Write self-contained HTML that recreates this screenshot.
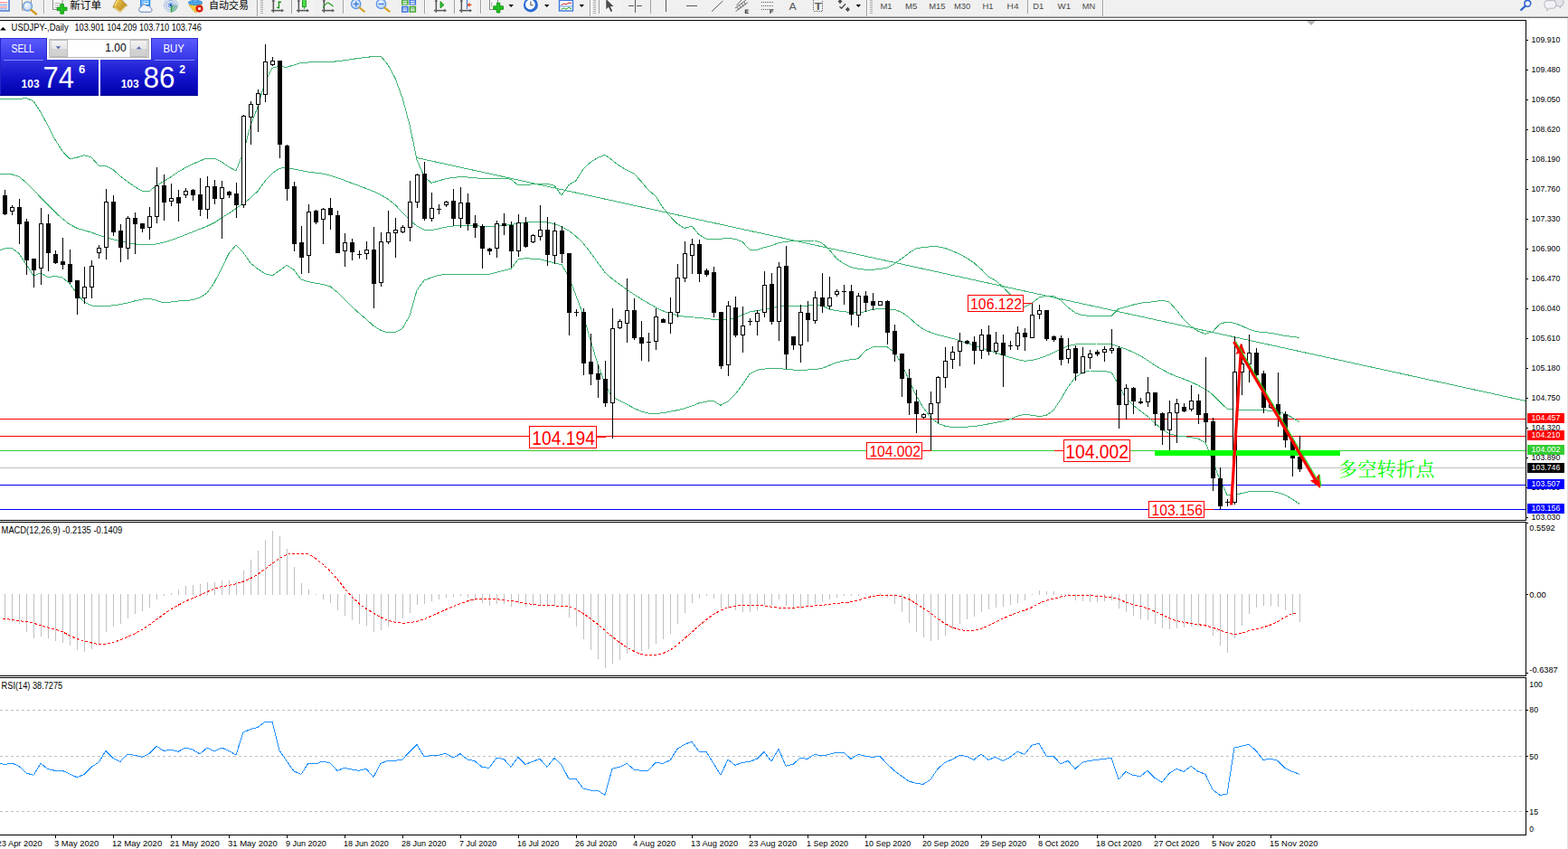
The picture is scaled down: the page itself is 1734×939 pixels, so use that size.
<!DOCTYPE html>
<html><head><meta charset="utf-8"><title>USDJPY-,Daily</title>
<style>html,body{margin:0;padding:0;background:#fff;overflow:hidden}body{width:1734px;height:939px;font-family:"Liberation Sans","Noto Sans CJK SC",sans-serif}svg text{font-family:"Liberation Sans","Noto Sans CJK SC",sans-serif;white-space:pre}</style></head>
<body>
<svg width="1734" height="939" viewBox="0 0 1734 939" font-family="Liberation Sans, sans-serif" style="display:block">
<defs><linearGradient id="gSell" x1="0" y1="0" x2="0" y2="1"><stop offset="0" stop-color="#5c5cff"/><stop offset="1" stop-color="#3434e6"/></linearGradient><linearGradient id="gBig" x1="0" y1="0" x2="0" y2="1"><stop offset="0" stop-color="#3232e0"/><stop offset="0.55" stop-color="#1010c8"/><stop offset="1" stop-color="#0000a8"/></linearGradient><linearGradient id="gBtn" x1="0" y1="0" x2="0" y2="1"><stop offset="0" stop-color="#f4f4f4"/><stop offset="0.5" stop-color="#e6e6e6"/><stop offset="0.5" stop-color="#d4d4d4"/><stop offset="1" stop-color="#cfcfcf"/></linearGradient><linearGradient id="gGold" x1="0" y1="0" x2="1" y2="1"><stop offset="0" stop-color="#f6d35a"/><stop offset="1" stop-color="#b07a10"/></linearGradient><radialGradient id="gLens" cx="0.4" cy="0.4" r="0.7"><stop offset="0" stop-color="#f4faff"/><stop offset="1" stop-color="#a8cdf2"/></radialGradient></defs>
<rect x="0" y="0" width="1734" height="939" fill="#fff" />
<rect x="1733" y="20" width="1" height="919" fill="#e3e3e3" shape-rendering="crispEdges"/>
<rect x="0" y="0" width="1734" height="18" fill="#f0f0f0" />
<rect x="0" y="18" width="1734" height="1" fill="#b9b9b9" shape-rendering="crispEdges"/>
<rect x="0" y="19" width="1734" height="1" fill="#6f6f6f" shape-rendering="crispEdges"/>
<pattern id="chk" width="2" height="2" patternUnits="userSpaceOnUse"><rect width="1" height="1" fill="#e9e9e9"/><rect x="1" y="1" width="1" height="1" fill="#e9e9e9"/></pattern>
<rect x="-1" y="-1" width="11" height="13" fill="#fff" stroke="#3b6fd0" stroke-width="1.4"/>
<rect x="0" y="2.5" width="8" height="0.8" fill="#ff4040" />
<rect x="0" y="5" width="8" height="0.8" fill="#4a7ae0" />
<rect x="0" y="7.5" width="8" height="0.8" fill="#ff4040" />
<rect x="0" y="9.5" width="8" height="0.8" fill="#4a7ae0" />
<rect x="24.5" y="-1" width="10" height="12" fill="#f4f0e6" stroke="#a09a88" stroke-width="1"/>
<circle cx="30.5" cy="7" r="5" fill="url(#gLens)" stroke="#6f9fe0" stroke-width="1.4" fill-opacity="0.9"/>
<line x1="34.5" y1="11" x2="40" y2="15.5" stroke="#d29a22" stroke-width="2.4" stroke-linecap="round"/>
<rect x="48" y="0" width="1" height="15" fill="#a0a0a0" shape-rendering="crispEdges"/>
<rect x="49" y="0" width="1" height="15" fill="#fff" shape-rendering="crispEdges"/>
<rect x="58.5" y="-1" width="10.5" height="11.5" fill="#fbfbfb" stroke="#8c8c8c" stroke-width="1"/>
<rect x="60.5" y="3" width="6" height="0.8" fill="#a0a0a0" />
<rect x="60.5" y="5.5" width="6" height="0.8" fill="#a0a0a0" />
<rect x="60.5" y="8" width="6" height="0.8" fill="#a0a0a0" />
<path d="M66.8 4.5 h3.6 v3.6 h3.6 v3.6 h-3.6 v3.6 h-3.6 v-3.6 h-3.6 v-3.6 h3.6 Z" fill="#20c020" stroke="#0a8a0a" stroke-width="0.8"/>
<text x="77.3" y="9.8" font-size="11.6" fill="#000" textLength="34.7" lengthAdjust="spacingAndGlyphs" >新订单</text>
<path d="M129.4 -1 L133.6 -1 L140.4 6 L133 13.7 L125 7.9 Z" fill="url(#gGold)" stroke="#a06c0a" stroke-width="0.8" stroke-linejoin="round"/>
<path d="M126.4 8.6 L133 13.2 L139.6 6.6" fill="none" stroke="#f4e6b0" stroke-width="1.1"/>
<path d="M129.8 0.2 L127 6.6" fill="none" stroke="#fbe88c" stroke-width="1.2"/>
<rect x="155.3" y="-1" width="10.6" height="8.4" fill="#1e8ff4" stroke="#1878d8" stroke-width="0.6"/>
<rect x="158.4" y="0.6" width="6" height="4.4" fill="#d8ecff" />
<rect x="156.6" y="-1" width="1.2" height="7" fill="#9fd0ff" />
<rect x="159.6" y="1.8" width="3.8" height="1" fill="#1e8ff4" />
<path d="M155.8 13.3 a2.9 2.9 0 0 1 0.3 -5.7 a3.5 3.5 0 0 1 6.3 -1 a3 3 0 0 1 4.2 2.3 a2.3 2.3 0 0 1 -0.4 4.4 Z" fill="#f2f5fb" stroke="#5a76b4" stroke-width="0.9"/>
<path d="M189 5.7 L196.6 5.7 A7.6 7.6 0 0 1 189 13.4 Z" fill="#7cc47c" fill-opacity="0.75"/>
<g fill="none" stroke="#5a8ee0" stroke-width="0.9"><circle cx="188.9" cy="5.7" r="2.9"/><circle cx="188.9" cy="5.7" r="5.2" stroke-opacity="0.8"/><circle cx="188.9" cy="5.7" r="7.4" stroke-opacity="0.55"/></g>
<circle cx="188.8" cy="5.6" r="1.6" fill="#2458d0"/>
<rect x="188.9" y="6.4" width="1.3" height="7.2" fill="#22a822" />
<path d="M208.7 5.4 L223.4 4.6 L217.4 13.7 Q216 14 215 13 Z" fill="#f6cc3a" stroke="#c89a1a" stroke-width="0.6"/>
<ellipse cx="216" cy="3" rx="7.8" ry="2.7" fill="#4aa4e6" stroke="#2c7cc8" stroke-width="0.6"/>
<path d="M212.4 2.2 Q216 -4 219.8 2.2 Z" fill="#62b4ee" stroke="#2c7cc8" stroke-width="0.5"/>
<circle cx="220.5" cy="9.6" r="4.1" fill="#dc2010"/>
<rect x="219.2" y="8.3" width="2.7" height="2.7" fill="#fff" />
<text x="231" y="9.8" font-size="11.6" fill="#000" textLength="44" lengthAdjust="spacingAndGlyphs" >自动交易</text>
<rect x="284" y="0" width="1" height="18" fill="#a0a0a0" shape-rendering="crispEdges"/>
<rect x="285" y="0" width="1" height="18" fill="#fff" shape-rendering="crispEdges"/>
<rect x="288" y="0" width="3" height="1" fill="#b0b0b0" />
<rect x="288" y="2" width="3" height="1" fill="#b0b0b0" />
<rect x="288" y="4" width="3" height="1" fill="#b0b0b0" />
<rect x="288" y="6" width="3" height="1" fill="#b0b0b0" />
<rect x="288" y="8" width="3" height="1" fill="#b0b0b0" />
<rect x="288" y="10" width="3" height="1" fill="#b0b0b0" />
<rect x="288" y="12" width="3" height="1" fill="#b0b0b0" />
<rect x="288" y="14" width="3" height="1" fill="#b0b0b0" />
<rect x="301.6" y="0" width="1.5" height="13.8" fill="#575757" />
<rect x="300" y="10.9" width="12" height="1.5" fill="#575757" />
<path d="M311.4 9.7 L314 11.65 L311.4 13.6 Z M300.7 1.8 L302.35 -1.2 L304 1.8 Z" fill="#575757"/>
<path d="M308.4 1.2 V9.6 M308.4 2.4 H311 M306.2 8.4 H308.4" stroke="#0f8f0f" stroke-width="1.3" fill="none"/>
<rect x="322" y="0" width="1" height="15" fill="#a0a0a0" shape-rendering="crispEdges"/>
<rect x="323" y="0" width="24" height="15.5" fill="#fdfdfd" />
<rect x="323" y="0" width="24" height="15.5" fill="url(#chk)"/>
<rect x="329.6" y="0" width="1.5" height="13.8" fill="#575757" />
<rect x="328" y="10.9" width="12" height="1.5" fill="#575757" />
<path d="M339.4 9.7 L342 11.65 L339.4 13.6 Z M328.7 1.8 L330.35 -1.2 L332 1.8 Z" fill="#575757"/>
<rect x="334.5" y="-1" width="3.8" height="8.6" fill="#4fe04f" stroke="#109210" stroke-width="0.9"/>
<rect x="335.9" y="7.6" width="1" height="2.2" fill="#109210" />
<rect x="357.6" y="0" width="1.5" height="13.8" fill="#575757" />
<rect x="356" y="10.9" width="12" height="1.5" fill="#575757" />
<path d="M367.4 9.7 L370 11.65 L367.4 13.6 Z M356.7 1.8 L358.35 -1.2 L360 1.8 Z" fill="#575757"/>
<path d="M357.2 8.6 Q361.6 2 363.4 3.2 Q365.6 4.8 368.6 7" stroke="#1a961a" stroke-width="1.1" fill="none"/>
<rect x="379" y="0" width="1" height="15" fill="#a0a0a0" shape-rendering="crispEdges"/>
<rect x="380" y="0" width="1" height="15" fill="#fff" shape-rendering="crispEdges"/>
<circle cx="393.7" cy="4.4" r="5.2" fill="url(#gLens)" stroke="#5c94e4" stroke-width="1.3"/>
<line x1="397.7" y1="8.6" x2="402.7" y2="12.6" stroke="#d6a626" stroke-width="2.4" stroke-linecap="round"/>
<rect x="390.7" y="3.7" width="6" height="1.5" fill="#3f7ad8" />
<rect x="392.95" y="1.4" width="1.5" height="6" fill="#3f7ad8" />
<circle cx="421.5" cy="4.4" r="5.2" fill="url(#gLens)" stroke="#5c94e4" stroke-width="1.3"/>
<line x1="425.5" y1="8.6" x2="430.5" y2="12.6" stroke="#d6a626" stroke-width="2.4" stroke-linecap="round"/>
<rect x="418.5" y="3.7" width="6" height="1.5" fill="#3f7ad8" />
<rect x="444" y="-1" width="7.6" height="6.6" fill="#3fa62e" />
<rect x="445.4" y="0.8" width="4.8" height="1.1" fill="#eaf4ff" />
<rect x="445.4" y="2.6" width="4.8" height="2.2" fill="#fff" fill-opacity="0.75"/>
<rect x="452.5" y="-1" width="7.6" height="6.6" fill="#3a6fe0" />
<rect x="453.9" y="0.8" width="4.8" height="1.1" fill="#eaf4ff" />
<rect x="453.9" y="2.6" width="4.8" height="2.2" fill="#fff" fill-opacity="0.75"/>
<rect x="444" y="6.8" width="7.6" height="7" fill="#3a6fe0" />
<rect x="445.4" y="8.4" width="4.8" height="1.1" fill="#eaf4ff" />
<rect x="445.4" y="10.2" width="4.8" height="2.2" fill="#fff" fill-opacity="0.75"/>
<rect x="452.5" y="6.8" width="7.6" height="7" fill="#3fa62e" />
<rect x="453.9" y="8.4" width="4.8" height="1.1" fill="#eaf4ff" />
<rect x="453.9" y="10.2" width="4.8" height="2.2" fill="#fff" fill-opacity="0.75"/>
<rect x="469" y="0" width="1" height="15" fill="#a0a0a0" shape-rendering="crispEdges"/>
<rect x="470" y="0" width="1" height="15" fill="#fff" shape-rendering="crispEdges"/>
<rect x="474" y="0" width="25" height="15.5" fill="#fdfdfd" />
<rect x="474" y="0" width="25" height="15.5" fill="url(#chk)"/>
<rect x="481.6" y="0" width="1.5" height="13.8" fill="#575757" />
<rect x="480" y="10.9" width="12" height="1.5" fill="#575757" />
<path d="M491.4 9.7 L494 11.65 L491.4 13.6 Z M480.7 1.8 L482.35 -1.2 L484 1.8 Z" fill="#575757"/>
<path d="M487 1.6 L491 5.4 L487 9 Z" fill="#2fbf2f" stroke="#168a16" stroke-width="0.8"/>
<rect x="502" y="0" width="1" height="15" fill="#a0a0a0" shape-rendering="crispEdges"/>
<rect x="503" y="0" width="24" height="15.5" fill="#fdfdfd" />
<rect x="503" y="0" width="24" height="15.5" fill="url(#chk)"/>
<rect x="509.6" y="0" width="1.5" height="13.8" fill="#575757" />
<rect x="508" y="10.9" width="12" height="1.5" fill="#575757" />
<path d="M519.4 9.7 L522 11.65 L519.4 13.6 Z M508.7 1.8 L510.35 -1.2 L512 1.8 Z" fill="#575757"/>
<rect x="516" y="0" width="1" height="10" fill="#2f66c8" shape-rendering="crispEdges"/>
<path d="M521.5 5.4 H518 M519.6 3.4 L517.4 5.4 L519.6 7.4" stroke="#e04010" stroke-width="1.1" fill="none"/>
<rect x="531" y="0" width="1" height="15" fill="#a0a0a0" shape-rendering="crispEdges"/>
<rect x="532" y="0" width="1" height="15" fill="#fff" shape-rendering="crispEdges"/>
<rect x="541.5" y="-1" width="9" height="11.5" fill="#fbfbfb" stroke="#8c8c8c" stroke-width="1"/>
<rect x="543.2" y="2.5" width="1" height="5" fill="#a0a0a0" />
<path d="M549.3 3.2 h3.6 v3.6 h3.6 v3.6 h-3.6 v3.6 h-3.6 v-3.6 h-3.6 v-3.6 h3.6 Z" fill="#20c020" stroke="#0a8a0a" stroke-width="0.8"/>
<path d="M562.5 5 L567.9 5 L565.2 8 Z" fill="#000"/>
<circle cx="586.9" cy="5.4" r="8" fill="#2a6ad6"/><circle cx="586.4" cy="5" r="5.4" fill="#fbfdff"/>
<path d="M586.9 1.5 V5.8 H589.6" stroke="#444" stroke-width="1" fill="none"/>
<path d="M602 5 L607.4 5 L604.7 8 Z" fill="#000"/>
<rect x="618.5" y="-1" width="15" height="13" fill="#fff" stroke="#3b78dc" stroke-width="1.4"/>
<rect x="618.5" y="-1" width="15" height="2" fill="#3b78dc" />
<path d="M620.5 5.6 L623.5 4.2 L626 4.8 L629 3.2 L632 3.4" stroke="#c82020" stroke-width="1" fill="none"/>
<rect x="619" y="6.6" width="14" height="0.8" fill="#3b78dc" />
<path d="M620.5 10.4 L623.5 9 L626 10.2 L629 8.4 L632 9.8" stroke="#20a020" stroke-width="1" fill="none"/>
<path d="M640.6 5 L646.0 5 L643.3000000000001 8 Z" fill="#000"/>
<rect x="652" y="0" width="1" height="18" fill="#a0a0a0" shape-rendering="crispEdges"/>
<rect x="653" y="0" width="1" height="18" fill="#fff" shape-rendering="crispEdges"/>
<rect x="656" y="0" width="3" height="1" fill="#b0b0b0" />
<rect x="656" y="2" width="3" height="1" fill="#b0b0b0" />
<rect x="656" y="4" width="3" height="1" fill="#b0b0b0" />
<rect x="656" y="6" width="3" height="1" fill="#b0b0b0" />
<rect x="656" y="8" width="3" height="1" fill="#b0b0b0" />
<rect x="656" y="10" width="3" height="1" fill="#b0b0b0" />
<rect x="656" y="12" width="3" height="1" fill="#b0b0b0" />
<rect x="656" y="14" width="3" height="1" fill="#b0b0b0" />
<rect x="662" y="0" width="1" height="15" fill="#a0a0a0" shape-rendering="crispEdges"/>
<rect x="663" y="0" width="24" height="15.5" fill="#fdfdfd" />
<rect x="663" y="0" width="24" height="15.5" fill="url(#chk)"/>
<path d="M670.3 -1 L670.3 10.2 L673 7.8 L675.4 13 L677.2 12.2 L674.9 7.2 L678.4 7 Z" fill="#4c4c4c"/>
<g shape-rendering="crispEdges">
<rect x="702" y="0" width="1" height="14" fill="#5a5a5a" />
<rect x="695" y="6" width="6" height="1" fill="#5a5a5a" />
<rect x="704" y="6" width="6" height="1" fill="#5a5a5a" />
<rect x="719" y="0" width="1" height="15" fill="#a0a0a0" shape-rendering="crispEdges"/>
<rect x="736" y="0" width="1" height="13" fill="#5a5a5a" />
<rect x="759" y="6" width="12" height="1" fill="#5a5a5a" />
</g>
<line x1="787" y1="12.8" x2="799.4" y2="1" stroke="#5a5a5a" stroke-width="1" />
<g stroke="#5a5a5a" stroke-width="0.9" fill="none"><path d="M813 9 L825 0 M813.6 12.6 L827 2.6 M815.5 8 L817 11 M818 6 L819.5 9.2 M820.5 4 L822 7.4 M823 2 L824.6 5.4 M814.5 6 L820 0"/></g>
<path d="M823.8 10.6 h4 v1 h-2.8 v0.7 h2.4 v0.9 h-2.4 v0.7 h2.8 v1 h-4 Z" fill="#3c3c3c"/>
<line x1="842" y1="2.5" x2="855" y2="2.5" stroke="#5a5a5a" stroke-width="1" stroke-dasharray="1 1" shape-rendering="crispEdges"/>
<line x1="842" y1="6.5" x2="855" y2="6.5" stroke="#5a5a5a" stroke-width="1" stroke-dasharray="1 1" shape-rendering="crispEdges"/>
<line x1="842" y1="10.5" x2="855" y2="10.5" stroke="#5a5a5a" stroke-width="1" stroke-dasharray="1 1" shape-rendering="crispEdges"/>
<path d="M851.4 10.6 h4 v1 h-2.8 v0.8 h2.4 v0.9 h-2.4 v1.6 h-1.2 Z" fill="#3c3c3c"/>
<text x="872.5" y="11" font-size="11.6" fill="#5a5a5a" textLength="8.2" lengthAdjust="spacingAndGlyphs" >A</text>
<rect x="899.5" y="-1" width="10" height="13" fill="none" stroke="#5a5a5a" stroke-width="1" stroke-dasharray="1 1" shape-rendering="crispEdges"/>
<text x="900.7" y="10.6" font-size="10.5" fill="#5a5a5a" textLength="8" lengthAdjust="spacingAndGlyphs" font-weight="bold" >T</text>
<path d="M929 -1 L931.4 1.6 L929 4.2 L926.6 1.6 Z M937.4 7.8 L940 10.4 L937.4 13 L934.8 10.4 Z" fill="#4c4c4c"/>
<path d="M928.5 7.2 L930.6 9.2 L935 4.2" stroke="#4c4c4c" stroke-width="1.3" fill="none"/>
<path d="M946.6 5 L952.0 5 L949.3000000000001 8 Z" fill="#000"/>
<rect x="958" y="0" width="1" height="18" fill="#a0a0a0" shape-rendering="crispEdges"/>
<rect x="959" y="0" width="1" height="18" fill="#fff" shape-rendering="crispEdges"/>
<rect x="962" y="0" width="3" height="1" fill="#b0b0b0" />
<rect x="962" y="2" width="3" height="1" fill="#b0b0b0" />
<rect x="962" y="4" width="3" height="1" fill="#b0b0b0" />
<rect x="962" y="6" width="3" height="1" fill="#b0b0b0" />
<rect x="962" y="8" width="3" height="1" fill="#b0b0b0" />
<rect x="962" y="10" width="3" height="1" fill="#b0b0b0" />
<rect x="962" y="12" width="3" height="1" fill="#b0b0b0" />
<rect x="962" y="14" width="3" height="1" fill="#b0b0b0" />
<rect x="1136" y="0" width="1" height="15" fill="#a0a0a0" shape-rendering="crispEdges"/>
<rect x="1137" y="0" width="25" height="15.5" fill="#fdfdfd" />
<rect x="1137" y="0" width="25" height="15.5" fill="url(#chk)"/>
<text x="973.4" y="9.7" font-size="9.6" fill="#4a4a4a" textLength="13.1" lengthAdjust="spacingAndGlyphs" >M1</text>
<text x="1001" y="9.7" font-size="9.6" fill="#4a4a4a" textLength="13.4" lengthAdjust="spacingAndGlyphs" >M5</text>
<text x="1027.2" y="9.7" font-size="9.6" fill="#4a4a4a" textLength="18.2" lengthAdjust="spacingAndGlyphs" >M15</text>
<text x="1055" y="9.7" font-size="9.6" fill="#4a4a4a" textLength="18.2" lengthAdjust="spacingAndGlyphs" >M30</text>
<text x="1086.5" y="9.7" font-size="9.6" fill="#4a4a4a" textLength="12.1" lengthAdjust="spacingAndGlyphs" >H1</text>
<text x="1113.6" y="9.7" font-size="9.6" fill="#4a4a4a" textLength="12.9" lengthAdjust="spacingAndGlyphs" >H4</text>
<text x="1142.2" y="9.7" font-size="9.6" fill="#4a4a4a" textLength="12.1" lengthAdjust="spacingAndGlyphs" >D1</text>
<text x="1169.6" y="9.7" font-size="9.6" fill="#4a4a4a" textLength="14.5" lengthAdjust="spacingAndGlyphs" >W1</text>
<text x="1196.7" y="9.7" font-size="9.6" fill="#4a4a4a" textLength="14.5" lengthAdjust="spacingAndGlyphs" >MN</text>
<rect x="1219" y="0" width="1" height="18" fill="#a0a0a0" shape-rendering="crispEdges"/>
<rect x="1220" y="0" width="1" height="18" fill="#fff" shape-rendering="crispEdges"/>
<circle cx="1689.3" cy="3.8" r="3.4" fill="#eef4ff" stroke="#2f62d0" stroke-width="1.6"/>
<line x1="1686.8" y1="6.6" x2="1682.2" y2="11" stroke="#2f62d0" stroke-width="2.2" stroke-linecap="round"/>
<path d="M1719 -2 h7 a3 3 0 0 1 3 3 v2.4 a3 3 0 0 1 -3 3 h-0.6 l0.4 2.2 l-2.6 -2.2 h-4.2 Z" fill="#e4e4ea" stroke="#9c9ca6" stroke-width="0.7"/>
<path d="M1711 0.6 h6.6 a3 3 0 0 1 3 3 v2.6 a3 3 0 0 1 -3 3 h-4 l-2.8 2.6 l0.4 -2.6 h-0.2 a3 3 0 0 1 -3 -3 v-2.6 a3 3 0 0 1 3 -3 Z" fill="#f2f2f6" stroke="#9c9ca6" stroke-width="0.7"/>
<clipPath id="cpMain"><rect x="0" y="23" width="1687" height="552"/></clipPath>
<clipPath id="cpMacd"><rect x="0" y="578" width="1687" height="169"/></clipPath>
<clipPath id="cpRsi"><rect x="0" y="750" width="1687" height="173"/></clipPath>
<rect x="0" y="22" width="1688" height="1" fill="#000" shape-rendering="crispEdges"/>
<rect x="1687" y="22" width="1" height="554" fill="#000" shape-rendering="crispEdges"/>
<rect x="0" y="575" width="1688" height="1" fill="#000" shape-rendering="crispEdges"/>
<rect x="0" y="577" width="1688" height="1" fill="#000" shape-rendering="crispEdges"/>
<rect x="1687" y="577" width="1" height="171" fill="#000" shape-rendering="crispEdges"/>
<rect x="0" y="747" width="1688" height="1" fill="#000" shape-rendering="crispEdges"/>
<rect x="0" y="749" width="1688" height="1" fill="#000" shape-rendering="crispEdges"/>
<rect x="1687" y="749" width="1" height="175" fill="#000" shape-rendering="crispEdges"/>
<rect x="0" y="923" width="1688" height="1" fill="#000" shape-rendering="crispEdges"/>
<g clip-path="url(#cpMain)">
<rect x="0" y="463" width="1687" height="1" fill="#ff0000" shape-rendering="crispEdges"/>
<rect x="0" y="482" width="1687" height="1" fill="#ff0000" shape-rendering="crispEdges"/>
<rect x="0" y="498" width="1687" height="1" fill="#32cd32" shape-rendering="crispEdges"/>
<rect x="0" y="517" width="1687" height="1" fill="#c0c0c0" shape-rendering="crispEdges"/>
<rect x="0" y="536" width="1687" height="1" fill="#0000ff" shape-rendering="crispEdges"/>
<rect x="0" y="563" width="1687" height="1" fill="#0000ff" shape-rendering="crispEdges"/>
<polyline points="0,109.33 5,109.77 13,109.99 21,109.66 29,108.47 37,111.97 45,124.12 53,138.94 61,154.58 69,167.18 77,175.76 85,174.19 93,171.67 101,173.92 109,183.09 117,183.34 125,187.66 133,194.75 141,201 149,206.49 157,211.12 165,211.67 173,205.27 181,200.64 189,195.61 197,190.15 205,185.59 213,181.63 221,177.92 229,175.05 237,175.01 245,179 253,184.6 261,188.96 269,168.91 277,139.01 285,118.33 293,90.82 301,75.37 309,73.34 317,74.33 325,71.96 333,69.36 341,68.99 349,68.8 357,68.65 365,68.41 373,67.82 381,66.77 389,65.51 397,64.35 405,63.41 413,62.48 421,62 429,71.64 437,86.38 445,108.31 453,137.9 461,176.63 469,195.21 477,202.33 485,199.97 493,197.76 501,196.38 509,195.68 517,196.03 525,196.85 533,197.33 541,197.27 549,197.12 557,197.01 565,198.41 573,204.96 581,204.26 589,203.93 597,203.62 605,203.3 613,205.18 621,216.11 629,204.67 637,199.65 645,187 653,179.42 661,174.54 669,171.2 677,177.23 685,183.3 693,188.14 701,192.04 709,200.51 717,210.3 725,216.68 733,229.57 741,239.24 749,247.53 757,252.47 765,250 773,259.61 781,264.2 789,264.2 797,264.2 805,263.3 813,264.39 821,267.33 829,276.29 837,276.29 845,273.62 853,271.87 861,268.65 869,267.29 877,266.62 885,266.31 893,266.1 901,266 909,268.85 917,276.14 925,285.83 933,291.62 941,295.55 949,297.3 957,298.27 965,298.2 973,297.64 981,295.96 989,291.85 997,286.02 1005,280.05 1013,274.88 1021,273.44 1029,272.84 1037,272.69 1045,274.47 1053,277.46 1061,280.96 1069,285.44 1077,290.71 1085,297.65 1093,305.82 1101,310.41 1109,317.27 1117,325.35 1125,335.8 1133,339.48 1141,335.43 1149,329.11 1157,327.19 1165,327.61 1173,331.89 1181,339.91 1189,345.88 1197,348.61 1205,349.5 1213,349.5 1221,349.5 1229,349.5 1237,341.58 1245,339.61 1253,337.14 1261,335.18 1269,334.58 1277,333.48 1285,332 1293,334.07 1301,342.91 1309,353.1 1317,360.99 1325,366.39 1333,369.3 1341,366.97 1349,358.2 1357,356.08 1365,357.31 1373,360.36 1381,364.02 1389,366.72 1397,367.55 1405,368.29 1413,369.86 1421,371.36 1429,372.48 1437,373.33" fill="none" stroke="#3cb371" stroke-width="1" stroke-linejoin="round" shape-rendering="crispEdges"/>
<polyline points="0,192 5,192.13 13,192.83 21,195.37 29,202 37,210.22 45,218.33 53,226.33 61,234.65 69,241.93 77,248.11 85,252.32 93,254.69 101,257.01 109,260.14 117,262.73 125,264.77 133,266.59 141,268.5 149,269.92 157,270.41 165,270.66 173,269.94 181,268.1 189,265.7 197,262.78 205,259.75 213,256.49 221,253.34 229,250.28 237,246.31 245,241.09 253,235.93 261,230.65 269,224.98 277,219.04 285,211.43 293,200.39 301,191.82 309,186.29 317,185.35 325,186.98 333,188.66 341,190.16 349,191.15 357,192.16 365,193.91 373,196.56 381,199.48 389,202.54 397,205.52 405,208.55 413,211.68 421,215.52 429,220.26 437,226.55 445,234.99 453,243.3 461,249.93 469,254.15 477,254.7 485,253.01 493,251.2 501,249.94 509,249.55 517,249.35 525,249.54 533,250.29 541,250.66 549,250.3 557,249.52 565,248.54 573,247.17 581,245.98 589,245.12 597,245.15 605,246.01 613,247.51 621,250.75 629,255.11 637,261.34 645,269.14 653,279.34 661,290.49 669,301.32 677,308.4 685,314.26 693,320.1 701,325.58 709,330.66 717,335.37 725,339.82 733,343.85 741,346.61 749,348.76 757,350.12 765,350.83 773,351.4 781,352.3 789,353.5 797,353.99 805,353.3 813,351.74 821,348.23 829,345.08 837,343.53 845,342.34 853,340.96 861,339.25 869,338.34 877,338.33 885,338.33 893,338.13 901,337.03 909,337.58 917,341.92 925,343.58 933,344.68 941,345.51 949,346 957,344.58 965,342.19 973,341.67 981,341.67 989,342.45 997,345.21 1005,350.93 1013,358.12 1021,364.23 1029,367.68 1037,370.3 1045,372.33 1053,374.2 1061,376.53 1069,379.26 1077,382 1085,384.67 1093,387.33 1101,390.07 1109,392.88 1117,395.27 1125,397.56 1133,399.17 1141,398.74 1149,396.32 1157,393.56 1165,390.15 1173,385.84 1181,382.68 1189,380.97 1197,380.39 1205,380.09 1213,380 1221,380.33 1229,381.04 1237,383.16 1245,386.11 1253,389.5 1261,393.47 1269,398.45 1277,403.97 1285,408.68 1293,412.91 1301,416.31 1309,419.18 1317,422.4 1325,426.14 1333,430.61 1341,436.27 1349,444.66 1357,452.13 1365,453.33 1373,453.33 1381,453.33 1389,453.38 1397,453.73 1405,454.31 1413,455.38 1421,457.49 1429,461.85 1437,466.67" fill="none" stroke="#3cb371" stroke-width="1" stroke-linejoin="round" shape-rendering="crispEdges"/>
<polyline points="0,276.67 5,274.9 13,274.33 21,280.49 29,292.39 37,304.98 45,302.04 53,306.65 61,305.23 69,307.04 77,313.63 85,324.56 93,334.14 101,337.85 109,338.98 117,338.71 125,337.84 133,336.71 141,334.95 149,332.87 157,331.2 165,330.05 173,332.31 181,334.98 189,333.95 197,333.02 205,332.5 213,331.71 221,329.18 229,324.11 237,312.47 245,296.99 253,280.41 261,271.02 269,279.27 277,290.94 285,297.41 293,302.63 301,304.98 309,299.36 317,293.35 325,298.33 333,309.16 341,311.66 349,313.12 357,314.55 365,316.7 373,323.21 381,330.85 389,339.05 397,346.25 405,353 413,360.3 421,365.38 429,367.86 437,367.72 445,363.33 453,349.38 461,321.05 469,310.15 477,307.03 485,304.5 493,303.34 501,303.33 509,303.33 517,303.33 525,303.33 533,303.33 541,303.3 549,301.32 557,299.24 565,297.36 573,286.9 581,285.74 589,286.13 597,286.78 605,288.76 613,290.74 621,292.61 629,305.9 637,326.85 645,348.73 653,375.95 661,402.62 669,424.52 677,439.12 685,443.15 693,446.96 701,451.46 709,454.9 717,457.02 725,457.61 733,456.72 741,455.3 749,453.72 757,451.66 765,449.17 773,445.82 781,444.11 789,443.33 797,448.24 805,444.14 813,436.14 821,425.58 829,413.45 837,409.39 845,408.1 853,407.5 861,407.38 869,408.36 877,409 885,409 893,409 901,408.7 909,407.4 917,404.19 925,400.95 933,398.9 941,397.77 949,396.75 957,387.73 965,383.99 973,383.33 981,383.61 989,389.68 997,402.1 1005,419.92 1013,437.19 1021,450.93 1029,461.5 1037,468.07 1045,471.22 1053,472.54 1061,472.58 1069,472.18 1077,471.58 1085,470.46 1093,468.91 1101,467.38 1109,465.71 1117,463.71 1125,460.32 1133,458.34 1141,459.26 1149,460.52 1157,459.44 1165,453.82 1173,441.79 1181,428.11 1189,417.51 1197,412.28 1205,410 1213,410.14 1221,410.66 1229,411.77 1237,425.61 1245,440.49 1253,448.03 1261,454.36 1269,460.27 1277,467.87 1285,474.78 1293,479.64 1301,482.01 1309,482.68 1317,483.59 1325,485.28 1333,489.36 1341,509.43 1349,530.74 1357,547.48 1365,547.44 1373,545.68 1381,543.74 1389,543.33 1397,543.33 1405,543.44 1413,544.54 1421,547.44 1429,552.12 1437,557.33" fill="none" stroke="#3cb371" stroke-width="1" stroke-linejoin="round" shape-rendering="crispEdges"/>
<line x1="460.5" y1="174.4" x2="1687" y2="443.4" stroke="#3cb371" stroke-width="1" shape-rendering="crispEdges"/>
<g shape-rendering="crispEdges">
<rect x="5" y="210" width="1" height="28" fill="#000" />
<rect x="3" y="216" width="5" height="21" fill="#000" />
<rect x="13" y="227" width="1" height="11" fill="#000" />
<rect x="11" y="229" width="5" height="5" fill="#000" />
<rect x="12" y="230" width="3" height="3" fill="#fff" />
<rect x="21" y="220" width="1" height="50" fill="#000" />
<rect x="19" y="229" width="5" height="19" fill="#000" />
<rect x="29" y="242" width="1" height="62" fill="#000" />
<rect x="27" y="245" width="5" height="43" fill="#000" />
<rect x="37" y="286" width="1" height="32" fill="#000" />
<rect x="35" y="286" width="5" height="13" fill="#000" />
<rect x="45" y="230" width="1" height="85" fill="#000" />
<rect x="43" y="247" width="5" height="50" fill="#000" />
<rect x="44" y="248" width="3" height="48" fill="#fff" />
<rect x="53" y="237" width="1" height="63" fill="#000" />
<rect x="51" y="247" width="5" height="33" fill="#000" />
<rect x="61" y="277" width="1" height="15" fill="#000" />
<rect x="59" y="281" width="5" height="10" fill="#000" />
<rect x="69" y="263" width="1" height="35" fill="#000" />
<rect x="67" y="289" width="5" height="4" fill="#000" />
<rect x="77" y="276" width="1" height="38" fill="#000" />
<rect x="75" y="292" width="5" height="20" fill="#000" />
<rect x="85" y="310" width="1" height="38" fill="#000" />
<rect x="83" y="310" width="5" height="20" fill="#000" />
<rect x="93" y="295" width="1" height="41" fill="#000" />
<rect x="91" y="317" width="5" height="13" fill="#000" />
<rect x="92" y="318" width="3" height="11" fill="#fff" />
<rect x="101" y="288" width="1" height="42" fill="#000" />
<rect x="99" y="294" width="5" height="24" fill="#000" />
<rect x="100" y="295" width="3" height="22" fill="#fff" />
<rect x="109" y="271" width="1" height="15" fill="#000" />
<rect x="107" y="274" width="5" height="6" fill="#000" />
<rect x="108" y="275" width="3" height="4" fill="#fff" />
<rect x="117" y="209" width="1" height="78" fill="#000" />
<rect x="115" y="223" width="5" height="51" fill="#000" />
<rect x="116" y="224" width="3" height="49" fill="#fff" />
<rect x="125" y="216" width="1" height="45" fill="#000" />
<rect x="123" y="223" width="5" height="34" fill="#000" />
<rect x="133" y="248" width="1" height="42" fill="#000" />
<rect x="131" y="255" width="5" height="19" fill="#000" />
<rect x="141" y="239" width="1" height="48" fill="#000" />
<rect x="139" y="241" width="5" height="34" fill="#000" />
<rect x="140" y="242" width="3" height="32" fill="#fff" />
<rect x="149" y="235" width="1" height="46" fill="#000" />
<rect x="147" y="241" width="5" height="7" fill="#000" />
<rect x="157" y="247" width="1" height="10" fill="#000" />
<rect x="155" y="247" width="5" height="6" fill="#000" />
<rect x="165" y="229" width="1" height="36" fill="#000" />
<rect x="163" y="239" width="5" height="13" fill="#000" />
<rect x="164" y="240" width="3" height="11" fill="#fff" />
<rect x="173" y="185" width="1" height="62" fill="#000" />
<rect x="171" y="205" width="5" height="35" fill="#000" />
<rect x="172" y="206" width="3" height="33" fill="#fff" />
<rect x="181" y="193" width="1" height="51" fill="#000" />
<rect x="179" y="205" width="5" height="19" fill="#000" />
<rect x="189" y="203" width="1" height="25" fill="#000" />
<rect x="187" y="219" width="5" height="4" fill="#000" />
<rect x="188" y="220" width="3" height="2" fill="#fff" />
<rect x="197" y="210" width="1" height="35" fill="#000" />
<rect x="195" y="218" width="5" height="7" fill="#000" />
<rect x="205" y="208" width="1" height="11" fill="#000" />
<rect x="203" y="211" width="5" height="5" fill="#000" />
<rect x="204" y="212" width="3" height="3" fill="#fff" />
<rect x="213" y="209" width="1" height="13" fill="#000" />
<rect x="211" y="210" width="5" height="6" fill="#000" />
<rect x="221" y="197" width="1" height="42" fill="#000" />
<rect x="219" y="215" width="5" height="17" fill="#000" />
<rect x="229" y="195" width="1" height="47" fill="#000" />
<rect x="227" y="206" width="5" height="26" fill="#000" />
<rect x="228" y="207" width="3" height="24" fill="#fff" />
<rect x="237" y="199" width="1" height="27" fill="#000" />
<rect x="235" y="206" width="5" height="14" fill="#000" />
<rect x="245" y="200" width="1" height="64" fill="#000" />
<rect x="243" y="207" width="5" height="13" fill="#000" />
<rect x="244" y="208" width="3" height="11" fill="#fff" />
<rect x="253" y="211" width="1" height="8" fill="#000" />
<rect x="251" y="212" width="5" height="4" fill="#000" />
<rect x="261" y="202" width="1" height="39" fill="#000" />
<rect x="259" y="214" width="5" height="13" fill="#000" />
<rect x="269" y="127" width="1" height="103" fill="#000" />
<rect x="267" y="128" width="5" height="99" fill="#000" />
<rect x="268" y="129" width="3" height="97" fill="#fff" />
<rect x="277" y="112" width="1" height="48" fill="#000" />
<rect x="275" y="115" width="5" height="15" fill="#000" />
<rect x="276" y="116" width="3" height="13" fill="#fff" />
<rect x="285" y="99" width="1" height="47" fill="#000" />
<rect x="283" y="103" width="5" height="13" fill="#000" />
<rect x="284" y="104" width="3" height="11" fill="#fff" />
<rect x="293" y="49" width="1" height="64" fill="#000" />
<rect x="291" y="68" width="5" height="37" fill="#000" />
<rect x="292" y="69" width="3" height="35" fill="#fff" />
<rect x="301" y="63" width="1" height="10" fill="#000" />
<rect x="299" y="67" width="5" height="5" fill="#000" />
<rect x="300" y="68" width="3" height="3" fill="#fff" />
<rect x="309" y="67" width="1" height="108" fill="#000" />
<rect x="307" y="67" width="5" height="93" fill="#000" />
<rect x="317" y="160" width="1" height="62" fill="#000" />
<rect x="315" y="161" width="5" height="48" fill="#000" />
<rect x="325" y="201" width="1" height="77" fill="#000" />
<rect x="323" y="206" width="5" height="64" fill="#000" />
<rect x="333" y="250" width="1" height="53" fill="#000" />
<rect x="331" y="268" width="5" height="17" fill="#000" />
<rect x="341" y="226" width="1" height="76" fill="#000" />
<rect x="339" y="234" width="5" height="49" fill="#000" />
<rect x="340" y="235" width="3" height="47" fill="#fff" />
<rect x="349" y="232" width="1" height="16" fill="#000" />
<rect x="347" y="233" width="5" height="13" fill="#000" />
<rect x="357" y="230" width="1" height="40" fill="#000" />
<rect x="355" y="231" width="5" height="12" fill="#000" />
<rect x="356" y="232" width="3" height="10" fill="#fff" />
<rect x="365" y="219" width="1" height="35" fill="#000" />
<rect x="363" y="230" width="5" height="8" fill="#000" />
<rect x="373" y="233" width="1" height="47" fill="#000" />
<rect x="371" y="238" width="5" height="42" fill="#000" />
<rect x="381" y="258" width="1" height="37" fill="#000" />
<rect x="379" y="268" width="5" height="10" fill="#000" />
<rect x="380" y="269" width="3" height="8" fill="#fff" />
<rect x="389" y="264" width="1" height="24" fill="#000" />
<rect x="387" y="268" width="5" height="11" fill="#000" />
<rect x="397" y="277" width="1" height="9" fill="#000" />
<rect x="395" y="281" width="5" height="1" fill="#000" />
<rect x="405" y="267" width="1" height="20" fill="#000" />
<rect x="403" y="276" width="5" height="5" fill="#000" />
<rect x="404" y="277" width="3" height="3" fill="#fff" />
<rect x="413" y="251" width="1" height="90" fill="#000" />
<rect x="411" y="276" width="5" height="38" fill="#000" />
<rect x="421" y="257" width="1" height="60" fill="#000" />
<rect x="419" y="267" width="5" height="46" fill="#000" />
<rect x="420" y="268" width="3" height="44" fill="#fff" />
<rect x="429" y="233" width="1" height="37" fill="#000" />
<rect x="427" y="257" width="5" height="11" fill="#000" />
<rect x="428" y="258" width="3" height="9" fill="#fff" />
<rect x="437" y="241" width="1" height="44" fill="#000" />
<rect x="435" y="254" width="5" height="4" fill="#000" />
<rect x="436" y="255" width="3" height="2" fill="#fff" />
<rect x="445" y="249" width="1" height="9" fill="#000" />
<rect x="443" y="251" width="5" height="6" fill="#000" />
<rect x="444" y="252" width="3" height="4" fill="#fff" />
<rect x="453" y="200" width="1" height="67" fill="#000" />
<rect x="451" y="223" width="5" height="29" fill="#000" />
<rect x="452" y="224" width="3" height="27" fill="#fff" />
<rect x="461" y="192" width="1" height="38" fill="#000" />
<rect x="459" y="193" width="5" height="31" fill="#000" />
<rect x="460" y="194" width="3" height="29" fill="#fff" />
<rect x="469" y="179" width="1" height="65" fill="#000" />
<rect x="467" y="192" width="5" height="50" fill="#000" />
<rect x="477" y="213" width="1" height="32" fill="#000" />
<rect x="475" y="230" width="5" height="12" fill="#000" />
<rect x="476" y="231" width="3" height="10" fill="#fff" />
<rect x="485" y="226" width="1" height="11" fill="#000" />
<rect x="483" y="231" width="5" height="1" fill="#000" />
<rect x="493" y="222" width="1" height="7" fill="#000" />
<rect x="491" y="223" width="5" height="4" fill="#000" />
<rect x="492" y="224" width="3" height="2" fill="#fff" />
<rect x="501" y="209" width="1" height="41" fill="#000" />
<rect x="499" y="222" width="5" height="20" fill="#000" />
<rect x="509" y="207" width="1" height="45" fill="#000" />
<rect x="507" y="224" width="5" height="18" fill="#000" />
<rect x="508" y="225" width="3" height="16" fill="#fff" />
<rect x="517" y="214" width="1" height="41" fill="#000" />
<rect x="515" y="224" width="5" height="24" fill="#000" />
<rect x="525" y="238" width="1" height="25" fill="#000" />
<rect x="523" y="247" width="5" height="5" fill="#000" />
<rect x="533" y="248" width="1" height="49" fill="#000" />
<rect x="531" y="250" width="5" height="25" fill="#000" />
<rect x="541" y="274" width="1" height="8" fill="#000" />
<rect x="539" y="275" width="5" height="3" fill="#000" />
<rect x="549" y="244" width="1" height="41" fill="#000" />
<rect x="547" y="247" width="5" height="28" fill="#000" />
<rect x="548" y="248" width="3" height="26" fill="#fff" />
<rect x="557" y="236" width="1" height="24" fill="#000" />
<rect x="555" y="247" width="5" height="3" fill="#000" />
<rect x="565" y="245" width="1" height="51" fill="#000" />
<rect x="563" y="249" width="5" height="29" fill="#000" />
<rect x="573" y="237" width="1" height="47" fill="#000" />
<rect x="571" y="246" width="5" height="32" fill="#000" />
<rect x="572" y="247" width="3" height="30" fill="#fff" />
<rect x="581" y="240" width="1" height="34" fill="#000" />
<rect x="579" y="246" width="5" height="27" fill="#000" />
<rect x="589" y="259" width="1" height="10" fill="#000" />
<rect x="587" y="260" width="5" height="8" fill="#000" />
<rect x="588" y="261" width="3" height="6" fill="#fff" />
<rect x="597" y="227" width="1" height="39" fill="#000" />
<rect x="595" y="254" width="5" height="8" fill="#000" />
<rect x="596" y="255" width="3" height="6" fill="#fff" />
<rect x="605" y="240" width="1" height="54" fill="#000" />
<rect x="603" y="254" width="5" height="28" fill="#000" />
<rect x="613" y="246" width="1" height="46" fill="#000" />
<rect x="611" y="255" width="5" height="28" fill="#000" />
<rect x="612" y="256" width="3" height="26" fill="#fff" />
<rect x="621" y="250" width="1" height="41" fill="#000" />
<rect x="619" y="255" width="5" height="26" fill="#000" />
<rect x="629" y="280" width="1" height="91" fill="#000" />
<rect x="627" y="280" width="5" height="66" fill="#000" />
<rect x="637" y="342" width="1" height="8" fill="#000" />
<rect x="635" y="345" width="5" height="1" fill="#000" />
<rect x="645" y="341" width="1" height="74" fill="#000" />
<rect x="643" y="345" width="5" height="57" fill="#000" />
<rect x="653" y="369" width="1" height="57" fill="#000" />
<rect x="651" y="400" width="5" height="14" fill="#000" />
<rect x="661" y="403" width="1" height="37" fill="#000" />
<rect x="659" y="413" width="5" height="7" fill="#000" />
<rect x="669" y="399" width="1" height="51" fill="#000" />
<rect x="667" y="419" width="5" height="27" fill="#000" />
<rect x="677" y="341" width="1" height="144" fill="#000" />
<rect x="675" y="363" width="5" height="83" fill="#000" />
<rect x="676" y="364" width="3" height="81" fill="#fff" />
<rect x="685" y="353" width="1" height="11" fill="#000" />
<rect x="683" y="355" width="5" height="8" fill="#000" />
<rect x="684" y="356" width="3" height="6" fill="#fff" />
<rect x="693" y="308" width="1" height="71" fill="#000" />
<rect x="691" y="343" width="5" height="15" fill="#000" />
<rect x="692" y="344" width="3" height="13" fill="#fff" />
<rect x="701" y="330" width="1" height="46" fill="#000" />
<rect x="699" y="343" width="5" height="31" fill="#000" />
<rect x="709" y="355" width="1" height="44" fill="#000" />
<rect x="707" y="373" width="5" height="7" fill="#000" />
<rect x="717" y="368" width="1" height="32" fill="#000" />
<rect x="715" y="378" width="5" height="1" fill="#000" />
<rect x="725" y="341" width="1" height="46" fill="#000" />
<rect x="723" y="350" width="5" height="28" fill="#000" />
<rect x="724" y="351" width="3" height="26" fill="#fff" />
<rect x="733" y="352" width="1" height="5" fill="#000" />
<rect x="731" y="353" width="5" height="4" fill="#000" />
<rect x="741" y="329" width="1" height="40" fill="#000" />
<rect x="739" y="345" width="5" height="13" fill="#000" />
<rect x="740" y="346" width="3" height="11" fill="#fff" />
<rect x="749" y="292" width="1" height="59" fill="#000" />
<rect x="747" y="307" width="5" height="39" fill="#000" />
<rect x="748" y="308" width="3" height="37" fill="#fff" />
<rect x="757" y="267" width="1" height="45" fill="#000" />
<rect x="755" y="280" width="5" height="28" fill="#000" />
<rect x="756" y="281" width="3" height="26" fill="#fff" />
<rect x="765" y="264" width="1" height="39" fill="#000" />
<rect x="763" y="270" width="5" height="13" fill="#000" />
<rect x="764" y="271" width="3" height="11" fill="#fff" />
<rect x="773" y="265" width="1" height="47" fill="#000" />
<rect x="771" y="270" width="5" height="33" fill="#000" />
<rect x="781" y="297" width="1" height="9" fill="#000" />
<rect x="779" y="299" width="5" height="5" fill="#000" />
<rect x="789" y="295" width="1" height="56" fill="#000" />
<rect x="787" y="301" width="5" height="45" fill="#000" />
<rect x="797" y="345" width="1" height="63" fill="#000" />
<rect x="795" y="345" width="5" height="60" fill="#000" />
<rect x="805" y="333" width="1" height="83" fill="#000" />
<rect x="803" y="338" width="5" height="66" fill="#000" />
<rect x="804" y="339" width="3" height="64" fill="#fff" />
<rect x="813" y="328" width="1" height="45" fill="#000" />
<rect x="811" y="340" width="5" height="31" fill="#000" />
<rect x="821" y="339" width="1" height="51" fill="#000" />
<rect x="819" y="360" width="5" height="11" fill="#000" />
<rect x="820" y="361" width="3" height="9" fill="#fff" />
<rect x="829" y="352" width="1" height="8" fill="#000" />
<rect x="827" y="355" width="5" height="1" fill="#000" />
<rect x="837" y="343" width="1" height="28" fill="#000" />
<rect x="835" y="346" width="5" height="10" fill="#000" />
<rect x="836" y="347" width="3" height="8" fill="#fff" />
<rect x="845" y="300" width="1" height="51" fill="#000" />
<rect x="843" y="315" width="5" height="31" fill="#000" />
<rect x="844" y="316" width="3" height="29" fill="#fff" />
<rect x="853" y="302" width="1" height="57" fill="#000" />
<rect x="851" y="314" width="5" height="42" fill="#000" />
<rect x="861" y="290" width="1" height="87" fill="#000" />
<rect x="859" y="295" width="5" height="61" fill="#000" />
<rect x="860" y="296" width="3" height="59" fill="#fff" />
<rect x="869" y="272" width="1" height="136" fill="#000" />
<rect x="867" y="294" width="5" height="98" fill="#000" />
<rect x="877" y="372" width="1" height="15" fill="#000" />
<rect x="875" y="372" width="5" height="10" fill="#000" />
<rect x="885" y="337" width="1" height="64" fill="#000" />
<rect x="883" y="345" width="5" height="37" fill="#000" />
<rect x="884" y="346" width="3" height="35" fill="#fff" />
<rect x="893" y="333" width="1" height="45" fill="#000" />
<rect x="891" y="346" width="5" height="8" fill="#000" />
<rect x="901" y="322" width="1" height="36" fill="#000" />
<rect x="899" y="329" width="5" height="26" fill="#000" />
<rect x="900" y="330" width="3" height="24" fill="#fff" />
<rect x="909" y="302" width="1" height="44" fill="#000" />
<rect x="907" y="329" width="5" height="10" fill="#000" />
<rect x="917" y="306" width="1" height="36" fill="#000" />
<rect x="915" y="329" width="5" height="10" fill="#000" />
<rect x="916" y="330" width="3" height="8" fill="#fff" />
<rect x="925" y="320" width="1" height="8" fill="#000" />
<rect x="923" y="322" width="5" height="4" fill="#000" />
<rect x="924" y="323" width="3" height="2" fill="#fff" />
<rect x="933" y="315" width="1" height="22" fill="#000" />
<rect x="931" y="322" width="5" height="1" fill="#000" />
<rect x="941" y="315" width="1" height="45" fill="#000" />
<rect x="939" y="322" width="5" height="26" fill="#000" />
<rect x="949" y="324" width="1" height="38" fill="#000" />
<rect x="947" y="327" width="5" height="22" fill="#000" />
<rect x="948" y="328" width="3" height="20" fill="#fff" />
<rect x="957" y="322" width="1" height="23" fill="#000" />
<rect x="955" y="327" width="5" height="8" fill="#000" />
<rect x="965" y="324" width="1" height="19" fill="#000" />
<rect x="963" y="333" width="5" height="5" fill="#000" />
<rect x="973" y="333" width="1" height="5" fill="#000" />
<rect x="971" y="333" width="5" height="5" fill="#000" />
<rect x="972" y="334" width="3" height="3" fill="#fff" />
<rect x="981" y="332" width="1" height="49" fill="#000" />
<rect x="979" y="333" width="5" height="35" fill="#000" />
<rect x="989" y="359" width="1" height="41" fill="#000" />
<rect x="987" y="366" width="5" height="26" fill="#000" />
<rect x="997" y="391" width="1" height="48" fill="#000" />
<rect x="995" y="391" width="5" height="28" fill="#000" />
<rect x="1005" y="408" width="1" height="51" fill="#000" />
<rect x="1003" y="418" width="5" height="28" fill="#000" />
<rect x="1013" y="431" width="1" height="48" fill="#000" />
<rect x="1011" y="444" width="5" height="14" fill="#000" />
<rect x="1021" y="457" width="1" height="6" fill="#000" />
<rect x="1019" y="458" width="5" height="4" fill="#000" />
<rect x="1020" y="459" width="3" height="2" fill="#fff" />
<rect x="1029" y="433" width="1" height="66" fill="#000" />
<rect x="1027" y="446" width="5" height="12" fill="#000" />
<rect x="1028" y="447" width="3" height="10" fill="#fff" />
<rect x="1037" y="416" width="1" height="52" fill="#000" />
<rect x="1035" y="417" width="5" height="29" fill="#000" />
<rect x="1036" y="418" width="3" height="27" fill="#fff" />
<rect x="1045" y="384" width="1" height="45" fill="#000" />
<rect x="1043" y="399" width="5" height="19" fill="#000" />
<rect x="1044" y="400" width="3" height="17" fill="#fff" />
<rect x="1053" y="383" width="1" height="25" fill="#000" />
<rect x="1051" y="389" width="5" height="9" fill="#000" />
<rect x="1052" y="390" width="3" height="7" fill="#fff" />
<rect x="1061" y="368" width="1" height="37" fill="#000" />
<rect x="1059" y="377" width="5" height="12" fill="#000" />
<rect x="1060" y="378" width="3" height="10" fill="#fff" />
<rect x="1069" y="376" width="1" height="5" fill="#000" />
<rect x="1067" y="377" width="5" height="3" fill="#000" />
<rect x="1077" y="372" width="1" height="31" fill="#000" />
<rect x="1075" y="378" width="5" height="10" fill="#000" />
<rect x="1085" y="364" width="1" height="33" fill="#000" />
<rect x="1083" y="370" width="5" height="18" fill="#000" />
<rect x="1084" y="371" width="3" height="16" fill="#fff" />
<rect x="1093" y="360" width="1" height="33" fill="#000" />
<rect x="1091" y="370" width="5" height="19" fill="#000" />
<rect x="1101" y="367" width="1" height="25" fill="#000" />
<rect x="1099" y="379" width="5" height="10" fill="#000" />
<rect x="1100" y="380" width="3" height="8" fill="#fff" />
<rect x="1109" y="370" width="1" height="58" fill="#000" />
<rect x="1107" y="379" width="5" height="14" fill="#000" />
<rect x="1117" y="377" width="1" height="10" fill="#000" />
<rect x="1115" y="382" width="5" height="1" fill="#000" />
<rect x="1125" y="361" width="1" height="26" fill="#000" />
<rect x="1123" y="368" width="5" height="15" fill="#000" />
<rect x="1124" y="369" width="3" height="13" fill="#fff" />
<rect x="1133" y="363" width="1" height="25" fill="#000" />
<rect x="1131" y="368" width="5" height="5" fill="#000" />
<rect x="1141" y="336" width="1" height="38" fill="#000" />
<rect x="1139" y="348" width="5" height="26" fill="#000" />
<rect x="1140" y="349" width="3" height="24" fill="#fff" />
<rect x="1149" y="337" width="1" height="16" fill="#000" />
<rect x="1147" y="343" width="5" height="5" fill="#000" />
<rect x="1148" y="344" width="3" height="3" fill="#fff" />
<rect x="1157" y="343" width="1" height="34" fill="#000" />
<rect x="1155" y="343" width="5" height="32" fill="#000" />
<rect x="1165" y="371" width="1" height="7" fill="#000" />
<rect x="1163" y="372" width="5" height="4" fill="#000" />
<rect x="1173" y="371" width="1" height="33" fill="#000" />
<rect x="1171" y="374" width="5" height="24" fill="#000" />
<rect x="1181" y="374" width="1" height="28" fill="#000" />
<rect x="1179" y="386" width="5" height="11" fill="#000" />
<rect x="1180" y="387" width="3" height="9" fill="#fff" />
<rect x="1189" y="382" width="1" height="39" fill="#000" />
<rect x="1187" y="385" width="5" height="28" fill="#000" />
<rect x="1197" y="384" width="1" height="29" fill="#000" />
<rect x="1195" y="394" width="5" height="19" fill="#000" />
<rect x="1196" y="395" width="3" height="17" fill="#fff" />
<rect x="1205" y="387" width="1" height="21" fill="#000" />
<rect x="1203" y="391" width="5" height="5" fill="#000" />
<rect x="1204" y="392" width="3" height="3" fill="#fff" />
<rect x="1213" y="387" width="1" height="7" fill="#000" />
<rect x="1211" y="389" width="5" height="3" fill="#000" />
<rect x="1221" y="383" width="1" height="17" fill="#000" />
<rect x="1219" y="386" width="5" height="4" fill="#000" />
<rect x="1220" y="387" width="3" height="2" fill="#fff" />
<rect x="1229" y="364" width="1" height="27" fill="#000" />
<rect x="1227" y="385" width="5" height="3" fill="#000" />
<rect x="1228" y="386" width="3" height="1" fill="#fff" />
<rect x="1237" y="383" width="1" height="91" fill="#000" />
<rect x="1235" y="385" width="5" height="63" fill="#000" />
<rect x="1245" y="425" width="1" height="39" fill="#000" />
<rect x="1243" y="429" width="5" height="19" fill="#000" />
<rect x="1244" y="430" width="3" height="17" fill="#fff" />
<rect x="1253" y="428" width="1" height="30" fill="#000" />
<rect x="1251" y="429" width="5" height="15" fill="#000" />
<rect x="1261" y="440" width="1" height="7" fill="#000" />
<rect x="1259" y="444" width="5" height="2" fill="#000" />
<rect x="1269" y="417" width="1" height="33" fill="#000" />
<rect x="1267" y="434" width="5" height="11" fill="#000" />
<rect x="1268" y="435" width="3" height="9" fill="#fff" />
<rect x="1277" y="434" width="1" height="37" fill="#000" />
<rect x="1275" y="434" width="5" height="24" fill="#000" />
<rect x="1285" y="456" width="1" height="36" fill="#000" />
<rect x="1283" y="457" width="5" height="19" fill="#000" />
<rect x="1293" y="443" width="1" height="55" fill="#000" />
<rect x="1291" y="456" width="5" height="20" fill="#000" />
<rect x="1292" y="457" width="3" height="18" fill="#fff" />
<rect x="1301" y="441" width="1" height="49" fill="#000" />
<rect x="1299" y="446" width="5" height="11" fill="#000" />
<rect x="1300" y="447" width="3" height="9" fill="#fff" />
<rect x="1309" y="446" width="1" height="10" fill="#000" />
<rect x="1307" y="450" width="5" height="5" fill="#000" />
<rect x="1317" y="426" width="1" height="29" fill="#000" />
<rect x="1315" y="443" width="5" height="10" fill="#000" />
<rect x="1316" y="444" width="3" height="8" fill="#fff" />
<rect x="1325" y="436" width="1" height="33" fill="#000" />
<rect x="1323" y="443" width="5" height="16" fill="#000" />
<rect x="1333" y="395" width="1" height="94" fill="#000" />
<rect x="1331" y="457" width="5" height="10" fill="#000" />
<rect x="1341" y="462" width="1" height="81" fill="#000" />
<rect x="1339" y="466" width="5" height="63" fill="#000" />
<rect x="1349" y="517" width="1" height="47" fill="#000" />
<rect x="1347" y="529" width="5" height="31" fill="#000" />
<rect x="1357" y="552" width="1" height="8" fill="#000" />
<rect x="1355" y="555" width="5" height="1" fill="#000" />
<rect x="1365" y="372" width="1" height="186" fill="#000" />
<rect x="1363" y="411" width="5" height="145" fill="#000" />
<rect x="1364" y="412" width="3" height="143" fill="#fff" />
<rect x="1373" y="381" width="1" height="56" fill="#000" />
<rect x="1371" y="402" width="5" height="10" fill="#000" />
<rect x="1372" y="403" width="3" height="8" fill="#fff" />
<rect x="1381" y="370" width="1" height="53" fill="#000" />
<rect x="1379" y="390" width="5" height="13" fill="#000" />
<rect x="1380" y="391" width="3" height="11" fill="#fff" />
<rect x="1389" y="385" width="1" height="31" fill="#000" />
<rect x="1387" y="390" width="5" height="25" fill="#000" />
<rect x="1397" y="410" width="1" height="47" fill="#000" />
<rect x="1395" y="413" width="5" height="38" fill="#000" />
<rect x="1405" y="446" width="1" height="6" fill="#000" />
<rect x="1403" y="447" width="5" height="4" fill="#000" />
<rect x="1404" y="448" width="3" height="2" fill="#fff" />
<rect x="1413" y="412" width="1" height="60" fill="#000" />
<rect x="1411" y="447" width="5" height="12" fill="#000" />
<rect x="1421" y="455" width="1" height="40" fill="#000" />
<rect x="1419" y="458" width="5" height="29" fill="#000" />
<rect x="1429" y="485" width="1" height="42" fill="#000" />
<rect x="1427" y="487" width="5" height="20" fill="#000" />
<rect x="1437" y="482" width="1" height="40" fill="#000" />
<rect x="1435" y="505" width="5" height="14" fill="#000" />
</g>
<rect x="1277" y="498" width="205" height="6" fill="#00ff00" />
<g stroke="#ff0000" fill="none" stroke-linecap="butt"><path d="M1361.6 558.5 L1372.3 388" stroke-width="3.2"/><path d="M1364.6 378 L1456.5 534" stroke-width="3.4"/></g>
<path d="M1372.6 380.2 L1377 391.2 L1372.4 389.6 L1367 391.4 Z" fill="#ff0000" stroke="#ff0000" stroke-width="0.8" stroke-linejoin="round"/>
<path d="M1459.8 539.4 L1449.6 531.6 L1454.6 530.4 L1458.6 524.8 Z" fill="#ff0000" stroke="#ff0000" stroke-width="0.8" stroke-linejoin="round"/>
<path d="M1366.6 377.6 L1457.4 531.2 M1459.2 524.6 L1460.9 538" stroke="#00ee00" stroke-width="1" fill="none"/>
<rect x="660" y="482" width="10" height="2" fill="#ff0000" />
<rect x="585.5" y="471.5" width="74" height="24" fill="#fff" stroke="#ff0000" stroke-width="1" shape-rendering="crispEdges"/>
<text x="588.3" y="492" font-size="22.3" fill="#ff0000" textLength="69.6" lengthAdjust="spacingAndGlyphs" >104.194</text>
<rect x="1020" y="498" width="10" height="1" fill="#ff0000" shape-rendering="crispEdges"/>
<rect x="958.5" y="489.5" width="61" height="18" fill="#fff" stroke="#ff0000" stroke-width="1" shape-rendering="crispEdges"/>
<text x="961.4" y="505.2" font-size="16.5" fill="#ff0000" textLength="56.6" lengthAdjust="spacingAndGlyphs" >104.002</text>
<rect x="1132" y="335" width="10" height="1" fill="#ff0000" shape-rendering="crispEdges"/>
<rect x="1070.5" y="326.5" width="61" height="18" fill="#fff" stroke="#ff0000" stroke-width="1" shape-rendering="crispEdges"/>
<text x="1073.1" y="341.9" font-size="16.5" fill="#ff0000" textLength="57" lengthAdjust="spacingAndGlyphs" >106.122</text>
<rect x="1166" y="498" width="10" height="1" fill="#ff0000" shape-rendering="crispEdges"/>
<rect x="1176.5" y="486.5" width="73" height="24" fill="#fff" stroke="#ff0000" stroke-width="1" shape-rendering="crispEdges"/>
<text x="1178.3" y="506.7" font-size="22.3" fill="#ff0000" textLength="69.7" lengthAdjust="spacingAndGlyphs" >104.002</text>
<rect x="1332" y="563" width="10" height="1" fill="#ff0000" shape-rendering="crispEdges"/>
<rect x="1270.5" y="554.5" width="61" height="18" fill="#fff" stroke="#ff0000" stroke-width="1" shape-rendering="crispEdges"/>
<text x="1273.5" y="570.2" font-size="16.5" fill="#ff0000" textLength="56.5" lengthAdjust="spacingAndGlyphs" >103.156</text>
<text x="1480" y="526" font-size="21" fill="#00ff00" textLength="106.5" lengthAdjust="spacing" style="font-family:'Liberation Serif','Noto Serif CJK SC',serif" >多空转折点</text>
</g>
<path d="M1445 23 L1455 23 L1450 28 Z" fill="#b4b4b4"/>
<path d="M0 33.6 L6.8 33.6 L3.4 30 Z" fill="#000"/>
<text x="12.6" y="33.6" font-size="10.4" fill="#000" textLength="63" lengthAdjust="spacingAndGlyphs" >USDJPY-,Daily</text>
<text x="82.5" y="33.6" font-size="10.4" fill="#000" textLength="140.3" lengthAdjust="spacingAndGlyphs" >103.901 104.209 103.710 103.746</text>
<g shape-rendering="crispEdges">
<rect x="5" y="657" width="1" height="30" fill="#c0c0c0" />
<rect x="13" y="657" width="1" height="31" fill="#c0c0c0" />
<rect x="21" y="657" width="1" height="33" fill="#c0c0c0" />
<rect x="29" y="657" width="1" height="42" fill="#c0c0c0" />
<rect x="37" y="657" width="1" height="49" fill="#c0c0c0" />
<rect x="45" y="657" width="1" height="47" fill="#c0c0c0" />
<rect x="53" y="657" width="1" height="49" fill="#c0c0c0" />
<rect x="61" y="657" width="1" height="52" fill="#c0c0c0" />
<rect x="69" y="657" width="1" height="54" fill="#c0c0c0" />
<rect x="77" y="657" width="1" height="57" fill="#c0c0c0" />
<rect x="85" y="657" width="1" height="62" fill="#c0c0c0" />
<rect x="93" y="657" width="1" height="64" fill="#c0c0c0" />
<rect x="101" y="657" width="1" height="61" fill="#c0c0c0" />
<rect x="109" y="657" width="1" height="56" fill="#c0c0c0" />
<rect x="117" y="657" width="1" height="42" fill="#c0c0c0" />
<rect x="125" y="657" width="1" height="36" fill="#c0c0c0" />
<rect x="133" y="657" width="1" height="33" fill="#c0c0c0" />
<rect x="141" y="657" width="1" height="27" fill="#c0c0c0" />
<rect x="149" y="657" width="1" height="22" fill="#c0c0c0" />
<rect x="157" y="657" width="1" height="19" fill="#c0c0c0" />
<rect x="165" y="657" width="1" height="15" fill="#c0c0c0" />
<rect x="173" y="657" width="1" height="6" fill="#c0c0c0" />
<rect x="181" y="657" width="1" height="2" fill="#c0c0c0" />
<rect x="189" y="656" width="1" height="2" fill="#c0c0c0" />
<rect x="197" y="652" width="1" height="6" fill="#c0c0c0" />
<rect x="205" y="648" width="1" height="10" fill="#c0c0c0" />
<rect x="213" y="647" width="1" height="11" fill="#c0c0c0" />
<rect x="221" y="646" width="1" height="12" fill="#c0c0c0" />
<rect x="229" y="644" width="1" height="14" fill="#c0c0c0" />
<rect x="237" y="644" width="1" height="14" fill="#c0c0c0" />
<rect x="245" y="642" width="1" height="16" fill="#c0c0c0" />
<rect x="253" y="642" width="1" height="16" fill="#c0c0c0" />
<rect x="261" y="643" width="1" height="15" fill="#c0c0c0" />
<rect x="269" y="631" width="1" height="27" fill="#c0c0c0" />
<rect x="277" y="619" width="1" height="39" fill="#c0c0c0" />
<rect x="285" y="609" width="1" height="49" fill="#c0c0c0" />
<rect x="293" y="597" width="1" height="61" fill="#c0c0c0" />
<rect x="301" y="587" width="1" height="71" fill="#c0c0c0" />
<rect x="309" y="593" width="1" height="65" fill="#c0c0c0" />
<rect x="317" y="607" width="1" height="51" fill="#c0c0c0" />
<rect x="325" y="627" width="1" height="31" fill="#c0c0c0" />
<rect x="333" y="645" width="1" height="13" fill="#c0c0c0" />
<rect x="341" y="652" width="1" height="6" fill="#c0c0c0" />
<rect x="349" y="657" width="1" height="1" fill="#c0c0c0" />
<rect x="357" y="657" width="1" height="6" fill="#c0c0c0" />
<rect x="365" y="657" width="1" height="10" fill="#c0c0c0" />
<rect x="373" y="657" width="1" height="18" fill="#c0c0c0" />
<rect x="381" y="657" width="1" height="24" fill="#c0c0c0" />
<rect x="389" y="657" width="1" height="29" fill="#c0c0c0" />
<rect x="397" y="657" width="1" height="33" fill="#c0c0c0" />
<rect x="405" y="657" width="1" height="35" fill="#c0c0c0" />
<rect x="413" y="657" width="1" height="42" fill="#c0c0c0" />
<rect x="421" y="657" width="1" height="40" fill="#c0c0c0" />
<rect x="429" y="657" width="1" height="36" fill="#c0c0c0" />
<rect x="437" y="657" width="1" height="32" fill="#c0c0c0" />
<rect x="445" y="657" width="1" height="27" fill="#c0c0c0" />
<rect x="453" y="657" width="1" height="21" fill="#c0c0c0" />
<rect x="461" y="657" width="1" height="12" fill="#c0c0c0" />
<rect x="469" y="657" width="1" height="11" fill="#c0c0c0" />
<rect x="477" y="657" width="1" height="8" fill="#c0c0c0" />
<rect x="485" y="657" width="1" height="6" fill="#c0c0c0" />
<rect x="493" y="657" width="1" height="4" fill="#c0c0c0" />
<rect x="501" y="657" width="1" height="3" fill="#c0c0c0" />
<rect x="509" y="657" width="1" height="2" fill="#c0c0c0" />
<rect x="517" y="657" width="1" height="4" fill="#c0c0c0" />
<rect x="525" y="657" width="1" height="7" fill="#c0c0c0" />
<rect x="533" y="657" width="1" height="10" fill="#c0c0c0" />
<rect x="541" y="657" width="1" height="13" fill="#c0c0c0" />
<rect x="549" y="657" width="1" height="11" fill="#c0c0c0" />
<rect x="557" y="657" width="1" height="11" fill="#c0c0c0" />
<rect x="565" y="657" width="1" height="14" fill="#c0c0c0" />
<rect x="573" y="657" width="1" height="11" fill="#c0c0c0" />
<rect x="581" y="657" width="1" height="14" fill="#c0c0c0" />
<rect x="589" y="657" width="1" height="13" fill="#c0c0c0" />
<rect x="597" y="657" width="1" height="12" fill="#c0c0c0" />
<rect x="605" y="657" width="1" height="14" fill="#c0c0c0" />
<rect x="613" y="657" width="1" height="13" fill="#c0c0c0" />
<rect x="621" y="657" width="1" height="14" fill="#c0c0c0" />
<rect x="629" y="657" width="1" height="26" fill="#c0c0c0" />
<rect x="637" y="657" width="1" height="36" fill="#c0c0c0" />
<rect x="645" y="657" width="1" height="50" fill="#c0c0c0" />
<rect x="653" y="657" width="1" height="62" fill="#c0c0c0" />
<rect x="661" y="657" width="1" height="72" fill="#c0c0c0" />
<rect x="669" y="657" width="1" height="82" fill="#c0c0c0" />
<rect x="677" y="657" width="1" height="77" fill="#c0c0c0" />
<rect x="685" y="657" width="1" height="73" fill="#c0c0c0" />
<rect x="693" y="657" width="1" height="66" fill="#c0c0c0" />
<rect x="701" y="657" width="1" height="64" fill="#c0c0c0" />
<rect x="709" y="657" width="1" height="63" fill="#c0c0c0" />
<rect x="717" y="657" width="1" height="61" fill="#c0c0c0" />
<rect x="725" y="657" width="1" height="55" fill="#c0c0c0" />
<rect x="733" y="657" width="1" height="50" fill="#c0c0c0" />
<rect x="741" y="657" width="1" height="44" fill="#c0c0c0" />
<rect x="749" y="657" width="1" height="33" fill="#c0c0c0" />
<rect x="757" y="657" width="1" height="21" fill="#c0c0c0" />
<rect x="765" y="657" width="1" height="10" fill="#c0c0c0" />
<rect x="773" y="657" width="1" height="5" fill="#c0c0c0" />
<rect x="781" y="657" width="1" height="2" fill="#c0c0c0" />
<rect x="789" y="657" width="1" height="5" fill="#c0c0c0" />
<rect x="797" y="657" width="1" height="16" fill="#c0c0c0" />
<rect x="805" y="657" width="1" height="16" fill="#c0c0c0" />
<rect x="813" y="657" width="1" height="18" fill="#c0c0c0" />
<rect x="821" y="657" width="1" height="20" fill="#c0c0c0" />
<rect x="829" y="657" width="1" height="20" fill="#c0c0c0" />
<rect x="837" y="657" width="1" height="18" fill="#c0c0c0" />
<rect x="845" y="657" width="1" height="13" fill="#c0c0c0" />
<rect x="853" y="657" width="1" height="13" fill="#c0c0c0" />
<rect x="861" y="657" width="1" height="6" fill="#c0c0c0" />
<rect x="869" y="657" width="1" height="13" fill="#c0c0c0" />
<rect x="877" y="657" width="1" height="17" fill="#c0c0c0" />
<rect x="885" y="657" width="1" height="16" fill="#c0c0c0" />
<rect x="893" y="657" width="1" height="14" fill="#c0c0c0" />
<rect x="901" y="657" width="1" height="11" fill="#c0c0c0" />
<rect x="909" y="657" width="1" height="8" fill="#c0c0c0" />
<rect x="917" y="657" width="1" height="6" fill="#c0c0c0" />
<rect x="925" y="657" width="1" height="4" fill="#c0c0c0" />
<rect x="933" y="657" width="1" height="2" fill="#c0c0c0" />
<rect x="941" y="657" width="1" height="2" fill="#c0c0c0" />
<rect x="949" y="657" width="1" height="2" fill="#c0c0c0" />
<rect x="957" y="657" width="1" height="1" fill="#c0c0c0" />
<rect x="965" y="657" width="1" height="1" fill="#c0c0c0" />
<rect x="973" y="656" width="1" height="2" fill="#c0c0c0" />
<rect x="981" y="657" width="1" height="4" fill="#c0c0c0" />
<rect x="989" y="657" width="1" height="11" fill="#c0c0c0" />
<rect x="997" y="657" width="1" height="20" fill="#c0c0c0" />
<rect x="1005" y="657" width="1" height="32" fill="#c0c0c0" />
<rect x="1013" y="657" width="1" height="42" fill="#c0c0c0" />
<rect x="1021" y="657" width="1" height="48" fill="#c0c0c0" />
<rect x="1029" y="657" width="1" height="52" fill="#c0c0c0" />
<rect x="1037" y="657" width="1" height="51" fill="#c0c0c0" />
<rect x="1045" y="657" width="1" height="46" fill="#c0c0c0" />
<rect x="1053" y="657" width="1" height="39" fill="#c0c0c0" />
<rect x="1061" y="657" width="1" height="33" fill="#c0c0c0" />
<rect x="1069" y="657" width="1" height="28" fill="#c0c0c0" />
<rect x="1077" y="657" width="1" height="25" fill="#c0c0c0" />
<rect x="1085" y="657" width="1" height="20" fill="#c0c0c0" />
<rect x="1093" y="657" width="1" height="17" fill="#c0c0c0" />
<rect x="1101" y="657" width="1" height="15" fill="#c0c0c0" />
<rect x="1109" y="657" width="1" height="14" fill="#c0c0c0" />
<rect x="1117" y="657" width="1" height="12" fill="#c0c0c0" />
<rect x="1125" y="657" width="1" height="10" fill="#c0c0c0" />
<rect x="1133" y="657" width="1" height="7" fill="#c0c0c0" />
<rect x="1141" y="657" width="1" height="1" fill="#c0c0c0" />
<rect x="1149" y="653" width="1" height="5" fill="#c0c0c0" />
<rect x="1157" y="654" width="1" height="4" fill="#c0c0c0" />
<rect x="1165" y="654" width="1" height="4" fill="#c0c0c0" />
<rect x="1173" y="657" width="1" height="1" fill="#c0c0c0" />
<rect x="1181" y="657" width="1" height="1" fill="#c0c0c0" />
<rect x="1189" y="657" width="1" height="7" fill="#c0c0c0" />
<rect x="1197" y="657" width="1" height="8" fill="#c0c0c0" />
<rect x="1205" y="657" width="1" height="9" fill="#c0c0c0" />
<rect x="1213" y="657" width="1" height="9" fill="#c0c0c0" />
<rect x="1221" y="657" width="1" height="8" fill="#c0c0c0" />
<rect x="1229" y="657" width="1" height="7" fill="#c0c0c0" />
<rect x="1237" y="657" width="1" height="16" fill="#c0c0c0" />
<rect x="1245" y="657" width="1" height="20" fill="#c0c0c0" />
<rect x="1253" y="657" width="1" height="24" fill="#c0c0c0" />
<rect x="1261" y="657" width="1" height="28" fill="#c0c0c0" />
<rect x="1269" y="657" width="1" height="29" fill="#c0c0c0" />
<rect x="1277" y="657" width="1" height="33" fill="#c0c0c0" />
<rect x="1285" y="657" width="1" height="38" fill="#c0c0c0" />
<rect x="1293" y="657" width="1" height="39" fill="#c0c0c0" />
<rect x="1301" y="657" width="1" height="38" fill="#c0c0c0" />
<rect x="1309" y="657" width="1" height="37" fill="#c0c0c0" />
<rect x="1317" y="657" width="1" height="36" fill="#c0c0c0" />
<rect x="1325" y="657" width="1" height="36" fill="#c0c0c0" />
<rect x="1333" y="657" width="1" height="36" fill="#c0c0c0" />
<rect x="1341" y="657" width="1" height="46" fill="#c0c0c0" />
<rect x="1349" y="657" width="1" height="57" fill="#c0c0c0" />
<rect x="1357" y="657" width="1" height="65" fill="#c0c0c0" />
<rect x="1365" y="657" width="1" height="49" fill="#c0c0c0" />
<rect x="1373" y="657" width="1" height="35" fill="#c0c0c0" />
<rect x="1381" y="657" width="1" height="22" fill="#c0c0c0" />
<rect x="1389" y="657" width="1" height="15" fill="#c0c0c0" />
<rect x="1397" y="657" width="1" height="13" fill="#c0c0c0" />
<rect x="1405" y="657" width="1" height="13" fill="#c0c0c0" />
<rect x="1413" y="657" width="1" height="14" fill="#c0c0c0" />
<rect x="1421" y="657" width="1" height="18" fill="#c0c0c0" />
<rect x="1429" y="657" width="1" height="24" fill="#c0c0c0" />
<rect x="1437" y="657" width="1" height="31" fill="#c0c0c0" />
</g>
<polyline points="3.3,683.99 13,685.46 21,686.58 29,687.61 37,689.2 45,691.77 53,694.11 61,696.01 69,698.6 77,702.94 85,706.58 93,708.96 101,710.91 109,712.63 117,712.04 125,710.38 133,707.96 141,704.57 149,700.83 157,696.47 165,691.08 173,685.23 181,679.46 189,673.95 197,669.27 205,665.13 213,661.56 221,658.32 229,654.66 237,651 245,648.84 253,647.45 261,645.73 269,643.18 277,639.84 285,635.15 293,629.56 301,623.5 309,617.67 317,613.28 325,612.37 333,612.41 341,612.8 349,617.63 357,623.9 365,631.63 373,640.64 381,650.63 389,659.73 397,667.6 405,673.35 413,678.14 421,682.81 429,686.4 437,688.25 445,689.3 453,688.81 461,687.2 469,684.85 477,681.31 485,677.83 493,674.24 501,670.83 509,667.67 517,664.84 525,662.8 533,662.47 541,662.34 549,662.64 557,663.63 565,664.5 573,665.6 581,667.48 589,668.3 597,669.32 605,669.99 613,670 621,670 629,670.98 637,673.73 645,678.59 653,684.24 661,690.33 669,697.2 677,704.14 685,710.33 693,715.72 701,720.29 709,723.54 717,724.99 725,724.44 733,722.63 741,719.14 749,713.08 757,706.34 765,699.21 773,692.04 781,685.37 789,679.49 797,675.13 805,671.73 813,670.12 821,669.36 829,669.33 837,669.35 845,670.12 853,671.19 861,672.28 869,672.33 877,672.32 885,671.6 893,670.64 901,670.01 909,669.37 917,668.45 925,667.45 933,666.7 941,665.9 949,664 957,661.25 965,659.44 973,658.14 981,658.05 989,658.32 997,659.78 1005,662.63 1013,667.41 1021,672.56 1029,678.1 1037,684.31 1045,689.73 1053,693.94 1061,696.4 1069,697.66 1077,697 1085,695.41 1093,692.06 1101,688.23 1109,684.15 1117,680.59 1125,677.53 1133,675.08 1141,671.79 1149,667.52 1157,664.13 1165,662.41 1173,660.02 1181,658.36 1189,658.33 1197,658.33 1205,658.54 1213,659.14 1221,659.84 1229,660.83 1237,662.75 1245,666.03 1253,668.51 1261,670.44 1269,672.93 1277,676.18 1285,679.73 1293,683.8 1301,686.61 1309,688.27 1317,689.59 1325,690.61 1333,691.87 1341,694.16 1349,696.77 1357,699.79 1365,701.66 1373,700.09 1381,697.78 1389,695.96 1397,693.85 1405,691.22 1413,687.83 1421,682.29 1429,678.86 1435.3,677.67" fill="none" stroke="#ff0000" stroke-width="1" stroke-dasharray="3 2" shape-rendering="crispEdges" clip-path="url(#cpMacd)"/>
<text x="1.6" y="589.6" font-size="10" fill="#000" textLength="133.5" lengthAdjust="spacingAndGlyphs" >MACD(12,26,9) -0.2135 -0.1409</text>
<line x1="0" y1="785.5" x2="1687" y2="785.5" stroke="#c0c0c0" stroke-width="1" stroke-dasharray="3 3" shape-rendering="crispEdges"/>
<line x1="0" y1="836.5" x2="1687" y2="836.5" stroke="#c0c0c0" stroke-width="1" stroke-dasharray="3 3" shape-rendering="crispEdges"/>
<line x1="0" y1="897.5" x2="1687" y2="897.5" stroke="#c0c0c0" stroke-width="1" stroke-dasharray="3 3" shape-rendering="crispEdges"/>
<polyline points="-3,843 5,845.67 13,844 21,847.33 29,855 37,857.33 45,844.33 53,850.67 61,852.33 69,852.33 77,856 85,859.67 93,856.67 101,848.33 109,843.33 117,830.33 125,838.33 133,842.33 141,834 149,835.33 157,837.33 165,833.33 173,825.33 181,830.33 189,829.33 197,831.33 205,827 213,829 221,834 229,827 237,831 245,827 253,830.33 261,835 269,809.67 277,806.67 285,804.33 293,798.33 301,798.33 309,830 317,841.67 325,853 333,856.33 341,844 349,845 357,842 365,844 373,852.33 381,849.33 389,851 397,852.33 405,850.33 413,859.33 421,844.33 429,841.33 437,841.33 445,840 453,831.33 461,823.33 469,837 477,835.33 485,835.33 493,833.33 501,838 509,833.67 517,840 525,841.67 533,848.33 541,849.33 549,838.33 557,839.33 565,848.33 573,837.33 581,845.33 589,842.33 597,839.33 605,848.33 613,838.33 621,846 629,861.33 637,861.33 645,872 653,874 661,874.33 669,879.33 677,850.33 685,848.33 693,844.33 701,851 709,852.33 717,852.33 725,843.33 733,844.33 741,841 749,828.33 757,823.33 765,820.33 773,831 781,831.33 789,844.33 797,857.33 805,840 813,846.33 821,843.33 829,842.33 837,839.33 845,831.33 853,842.33 861,828.33 869,847.33 877,845.33 885,838.33 893,839.33 901,834.33 909,836 917,834.33 925,832.33 933,832.33 941,839.33 949,834.33 957,836.33 965,837.33 973,836.33 981,845 989,852.33 997,858.33 1005,864 1013,866.33 1021,867.33 1029,862.33 1037,850.33 1045,843.33 1053,840 1061,835.33 1069,836.33 1077,840.33 1085,834 1093,840.33 1101,837.33 1109,841.33 1117,837.33 1125,831.33 1133,834.33 1141,824.33 1149,822.33 1157,836 1165,836.33 1173,845 1181,841.33 1189,850.33 1197,843.33 1205,841.33 1213,840.33 1221,839.33 1229,838.33 1237,862.33 1245,853.33 1253,857.33 1261,858.67 1269,852.33 1277,860.33 1285,865.33 1293,855.33 1301,850.33 1309,853.33 1317,847.33 1325,853.33 1333,856.33 1341,873.33 1349,879.33 1357,878.33 1365,827 1373,825.33 1381,823.33 1389,830.33 1397,840.33 1405,839.33 1413,841.33 1421,849.33 1429,853.33 1437,856.33" fill="none" stroke="#1e90ff" stroke-width="1" stroke-linejoin="round" shape-rendering="crispEdges"/>
<text x="1.6" y="761.7" font-size="10" fill="#000" textLength="67.6" lengthAdjust="spacingAndGlyphs" >RSI(14) 38.7275</text>
<rect x="1688" y="44" width="2" height="1" fill="#000" shape-rendering="crispEdges"/>
<text x="1693.6" y="47.4" font-size="9.6" fill="#000" textLength="31.8" lengthAdjust="spacingAndGlyphs" >109.910</text>
<rect x="1688" y="77" width="2" height="1" fill="#000" shape-rendering="crispEdges"/>
<text x="1693.6" y="80.4" font-size="9.6" fill="#000" textLength="31.8" lengthAdjust="spacingAndGlyphs" >109.480</text>
<rect x="1688" y="110" width="2" height="1" fill="#000" shape-rendering="crispEdges"/>
<text x="1693.6" y="113.4" font-size="9.6" fill="#000" textLength="31.8" lengthAdjust="spacingAndGlyphs" >109.050</text>
<rect x="1688" y="143" width="2" height="1" fill="#000" shape-rendering="crispEdges"/>
<text x="1693.6" y="146.4" font-size="9.6" fill="#000" textLength="31.8" lengthAdjust="spacingAndGlyphs" >108.620</text>
<rect x="1688" y="176" width="2" height="1" fill="#000" shape-rendering="crispEdges"/>
<text x="1693.6" y="179.4" font-size="9.6" fill="#000" textLength="31.8" lengthAdjust="spacingAndGlyphs" >108.190</text>
<rect x="1688" y="209" width="2" height="1" fill="#000" shape-rendering="crispEdges"/>
<text x="1693.6" y="212.4" font-size="9.6" fill="#000" textLength="31.8" lengthAdjust="spacingAndGlyphs" >107.760</text>
<rect x="1688" y="242" width="2" height="1" fill="#000" shape-rendering="crispEdges"/>
<text x="1693.6" y="245.4" font-size="9.6" fill="#000" textLength="31.8" lengthAdjust="spacingAndGlyphs" >107.330</text>
<rect x="1688" y="275" width="2" height="1" fill="#000" shape-rendering="crispEdges"/>
<text x="1693.6" y="278.4" font-size="9.6" fill="#000" textLength="31.8" lengthAdjust="spacingAndGlyphs" >106.900</text>
<rect x="1688" y="308" width="2" height="1" fill="#000" shape-rendering="crispEdges"/>
<text x="1693.6" y="311.4" font-size="9.6" fill="#000" textLength="31.8" lengthAdjust="spacingAndGlyphs" >106.470</text>
<rect x="1688" y="341" width="2" height="1" fill="#000" shape-rendering="crispEdges"/>
<text x="1693.6" y="344.4" font-size="9.6" fill="#000" textLength="31.8" lengthAdjust="spacingAndGlyphs" >106.040</text>
<rect x="1688" y="374" width="2" height="1" fill="#000" shape-rendering="crispEdges"/>
<text x="1693.6" y="377.4" font-size="9.6" fill="#000" textLength="31.8" lengthAdjust="spacingAndGlyphs" >105.610</text>
<rect x="1688" y="407" width="2" height="1" fill="#000" shape-rendering="crispEdges"/>
<text x="1693.6" y="410.4" font-size="9.6" fill="#000" textLength="31.8" lengthAdjust="spacingAndGlyphs" >105.180</text>
<rect x="1688" y="440" width="2" height="1" fill="#000" shape-rendering="crispEdges"/>
<text x="1693.6" y="443.4" font-size="9.6" fill="#000" textLength="31.8" lengthAdjust="spacingAndGlyphs" >104.750</text>
<rect x="1688" y="473" width="2" height="1" fill="#000" shape-rendering="crispEdges"/>
<text x="1693.6" y="476.4" font-size="9.6" fill="#000" textLength="31.8" lengthAdjust="spacingAndGlyphs" >104.320</text>
<rect x="1688" y="506" width="2" height="1" fill="#000" shape-rendering="crispEdges"/>
<text x="1693.6" y="509.4" font-size="9.6" fill="#000" textLength="31.8" lengthAdjust="spacingAndGlyphs" >103.890</text>
<rect x="1688" y="539" width="2" height="1" fill="#000" shape-rendering="crispEdges"/>
<text x="1693.6" y="542.4" font-size="9.6" fill="#000" textLength="31.8" lengthAdjust="spacingAndGlyphs" >103.460</text>
<rect x="1688" y="572" width="2" height="1" fill="#000" shape-rendering="crispEdges"/>
<text x="1693.6" y="575.4" font-size="9.6" fill="#000" textLength="31.8" lengthAdjust="spacingAndGlyphs" >103.030</text>
<rect x="1689" y="457" width="41" height="11" fill="#ff0000" />
<text x="1693.6" y="465.3" font-size="9.6" fill="#fff" textLength="31.8" lengthAdjust="spacingAndGlyphs" >104.457</text>
<rect x="1689" y="476" width="41" height="11" fill="#ff0000" />
<text x="1693.6" y="484.3" font-size="9.6" fill="#fff" textLength="31.8" lengthAdjust="spacingAndGlyphs" >104.210</text>
<rect x="1689" y="492" width="41" height="11" fill="#32cd32" />
<text x="1693.6" y="500.3" font-size="9.6" fill="#fff" textLength="31.8" lengthAdjust="spacingAndGlyphs" >104.002</text>
<rect x="1689" y="512" width="41" height="11" fill="#000000" />
<text x="1693.6" y="520.3" font-size="9.6" fill="#fff" textLength="31.8" lengthAdjust="spacingAndGlyphs" >103.746</text>
<rect x="1689" y="530" width="41" height="11" fill="#0000ff" />
<text x="1693.6" y="538.3" font-size="9.6" fill="#fff" textLength="31.8" lengthAdjust="spacingAndGlyphs" >103.507</text>
<rect x="1689" y="557" width="41" height="11" fill="#0000ff" />
<text x="1693.6" y="565.3" font-size="9.6" fill="#fff" textLength="31.8" lengthAdjust="spacingAndGlyphs" >103.156</text>
<rect x="1688" y="578" width="2" height="1" fill="#000" shape-rendering="crispEdges"/>
<rect x="1688" y="657" width="2" height="1" fill="#000" shape-rendering="crispEdges"/>
<rect x="1688" y="744" width="2" height="1" fill="#000" shape-rendering="crispEdges"/>
<text x="1691.3" y="587.4" font-size="9.6" fill="#000" textLength="28.5" lengthAdjust="spacingAndGlyphs" >0.5592</text>
<text x="1691.3" y="660.6" font-size="9.6" fill="#000" textLength="18.5" lengthAdjust="spacingAndGlyphs" >0.00</text>
<text x="1691.3" y="743.8" font-size="9.6" fill="#000" textLength="31.5" lengthAdjust="spacingAndGlyphs" >-0.6387</text>
<text x="1691.3" y="759.7" font-size="9.6" fill="#000" textLength="14.5" lengthAdjust="spacingAndGlyphs" >100</text>
<text x="1691.3" y="788.3" font-size="9.6" fill="#000" textLength="9.7" lengthAdjust="spacingAndGlyphs" >80</text>
<text x="1691.3" y="839.5" font-size="9.6" fill="#000" textLength="9.7" lengthAdjust="spacingAndGlyphs" >50</text>
<text x="1691.3" y="900.5" font-size="9.6" fill="#000" textLength="9.7" lengthAdjust="spacingAndGlyphs" >15</text>
<text x="1691.3" y="919.9" font-size="9.6" fill="#000" textLength="4.8" lengthAdjust="spacingAndGlyphs" >0</text>
<rect x="1688" y="785" width="2" height="1" fill="#000" shape-rendering="crispEdges"/>
<rect x="1688" y="836" width="2" height="1" fill="#000" shape-rendering="crispEdges"/>
<rect x="1688" y="897" width="2" height="1" fill="#000" shape-rendering="crispEdges"/>
<text x="-3.5" y="935.9" font-size="9.7" fill="#000" textLength="50.2" lengthAdjust="spacingAndGlyphs" >23 Apr 2020</text>
<rect x="61" y="924" width="1" height="3" fill="#000" shape-rendering="crispEdges"/>
<text x="60" y="935.9" font-size="9.7" fill="#000" textLength="49.2" lengthAdjust="spacingAndGlyphs" >3 May 2020</text>
<rect x="125" y="924" width="1" height="3" fill="#000" shape-rendering="crispEdges"/>
<text x="124" y="935.9" font-size="9.7" fill="#000" textLength="55.2" lengthAdjust="spacingAndGlyphs" >12 May 2020</text>
<rect x="189" y="924" width="1" height="3" fill="#000" shape-rendering="crispEdges"/>
<text x="188" y="935.9" font-size="9.7" fill="#000" textLength="54.7" lengthAdjust="spacingAndGlyphs" >21 May 2020</text>
<rect x="253" y="924" width="1" height="3" fill="#000" shape-rendering="crispEdges"/>
<text x="252" y="935.9" font-size="9.7" fill="#000" textLength="54.7" lengthAdjust="spacingAndGlyphs" >31 May 2020</text>
<rect x="317" y="924" width="1" height="3" fill="#000" shape-rendering="crispEdges"/>
<text x="316" y="935.9" font-size="9.7" fill="#000" textLength="44.7" lengthAdjust="spacingAndGlyphs" >9 Jun 2020</text>
<rect x="381" y="924" width="1" height="3" fill="#000" shape-rendering="crispEdges"/>
<text x="380" y="935.9" font-size="9.7" fill="#000" textLength="49.7" lengthAdjust="spacingAndGlyphs" >18 Jun 2020</text>
<rect x="445" y="924" width="1" height="3" fill="#000" shape-rendering="crispEdges"/>
<text x="444" y="935.9" font-size="9.7" fill="#000" textLength="49.5" lengthAdjust="spacingAndGlyphs" >28 Jun 2020</text>
<rect x="509" y="924" width="1" height="3" fill="#000" shape-rendering="crispEdges"/>
<text x="508" y="935.9" font-size="9.7" fill="#000" textLength="41.1" lengthAdjust="spacingAndGlyphs" >7 Jul 2020</text>
<rect x="573" y="924" width="1" height="3" fill="#000" shape-rendering="crispEdges"/>
<text x="572" y="935.9" font-size="9.7" fill="#000" textLength="46.2" lengthAdjust="spacingAndGlyphs" >16 Jul 2020</text>
<rect x="637" y="924" width="1" height="3" fill="#000" shape-rendering="crispEdges"/>
<text x="636" y="935.9" font-size="9.7" fill="#000" textLength="46.2" lengthAdjust="spacingAndGlyphs" >26 Jul 2020</text>
<rect x="701" y="924" width="1" height="3" fill="#000" shape-rendering="crispEdges"/>
<text x="700" y="935.9" font-size="9.7" fill="#000" textLength="47.2" lengthAdjust="spacingAndGlyphs" >4 Aug 2020</text>
<rect x="765" y="924" width="1" height="3" fill="#000" shape-rendering="crispEdges"/>
<text x="764" y="935.9" font-size="9.7" fill="#000" textLength="52.2" lengthAdjust="spacingAndGlyphs" >13 Aug 2020</text>
<rect x="829" y="924" width="1" height="3" fill="#000" shape-rendering="crispEdges"/>
<text x="828" y="935.9" font-size="9.7" fill="#000" textLength="53.2" lengthAdjust="spacingAndGlyphs" >23 Aug 2020</text>
<rect x="893" y="924" width="1" height="3" fill="#000" shape-rendering="crispEdges"/>
<text x="892" y="935.9" font-size="9.7" fill="#000" textLength="45.9" lengthAdjust="spacingAndGlyphs" >1 Sep 2020</text>
<rect x="957" y="924" width="1" height="3" fill="#000" shape-rendering="crispEdges"/>
<text x="956" y="935.9" font-size="9.7" fill="#000" textLength="51.4" lengthAdjust="spacingAndGlyphs" >10 Sep 2020</text>
<rect x="1021" y="924" width="1" height="3" fill="#000" shape-rendering="crispEdges"/>
<text x="1020" y="935.9" font-size="9.7" fill="#000" textLength="51.4" lengthAdjust="spacingAndGlyphs" >20 Sep 2020</text>
<rect x="1085" y="924" width="1" height="3" fill="#000" shape-rendering="crispEdges"/>
<text x="1084" y="935.9" font-size="9.7" fill="#000" textLength="50.9" lengthAdjust="spacingAndGlyphs" >29 Sep 2020</text>
<rect x="1149" y="924" width="1" height="3" fill="#000" shape-rendering="crispEdges"/>
<text x="1148" y="935.9" font-size="9.7" fill="#000" textLength="44.9" lengthAdjust="spacingAndGlyphs" >8 Oct 2020</text>
<rect x="1213" y="924" width="1" height="3" fill="#000" shape-rendering="crispEdges"/>
<text x="1212" y="935.9" font-size="9.7" fill="#000" textLength="50.4" lengthAdjust="spacingAndGlyphs" >18 Oct 2020</text>
<rect x="1277" y="924" width="1" height="3" fill="#000" shape-rendering="crispEdges"/>
<text x="1276" y="935.9" font-size="9.7" fill="#000" textLength="50.4" lengthAdjust="spacingAndGlyphs" >27 Oct 2020</text>
<rect x="1341" y="924" width="1" height="3" fill="#000" shape-rendering="crispEdges"/>
<text x="1340" y="935.9" font-size="9.7" fill="#000" textLength="48.4" lengthAdjust="spacingAndGlyphs" >5 Nov 2020</text>
<rect x="1405" y="924" width="1" height="3" fill="#000" shape-rendering="crispEdges"/>
<text x="1404" y="935.9" font-size="9.7" fill="#000" textLength="53.4" lengthAdjust="spacingAndGlyphs" >15 Nov 2020</text>
<rect x="0" y="42" width="52" height="25" fill="url(#gSell)" />
<rect x="167" y="42" width="52" height="25" fill="url(#gSell)" />
<rect x="0" y="66" width="109" height="40" fill="url(#gBig)" />
<rect x="111" y="66" width="108" height="40" fill="url(#gBig)" />
<rect x="0" y="42" width="52" height="1" fill="#3030d0" />
<rect x="167" y="42" width="52" height="1" fill="#3030d0" />
<rect x="4" y="66" width="44" height="1" fill="#8a8aff" />
<rect x="171" y="66" width="44" height="1" fill="#8a8aff" />
<rect x="51" y="42" width="1" height="24" fill="#2a2ad0" shape-rendering="crispEdges"/>
<rect x="167" y="42" width="1" height="24" fill="#2a2ad0" shape-rendering="crispEdges"/>
<rect x="0" y="42" width="1" height="64" fill="#2222c8" shape-rendering="crispEdges"/>
<rect x="218" y="42" width="1" height="64" fill="#2222c8" shape-rendering="crispEdges"/>
<rect x="0" y="105" width="109" height="1" fill="#000090" shape-rendering="crispEdges"/>
<rect x="111" y="105" width="108" height="1" fill="#000090" shape-rendering="crispEdges"/>
<text x="12.6" y="57.8" font-size="12" fill="#fff" textLength="25.2" lengthAdjust="spacingAndGlyphs" >SELL</text>
<text x="180.5" y="57.8" font-size="12" fill="#fff" textLength="23.5" lengthAdjust="spacingAndGlyphs" >BUY</text>
<rect x="54.5" y="43.5" width="110" height="20" fill="#fff" stroke="#b8b8b8" stroke-width="1"/>
<rect x="56" y="44.5" width="18.5" height="18" fill="url(#gBtn)" stroke="#b0b0b0" stroke-width="0.8"/>
<rect x="144" y="44.5" width="19" height="18" fill="url(#gBtn)" stroke="#b0b0b0" stroke-width="0.8"/>
<path d="M61.7 51.3 L67.3 51.3 L64.5 54.3 Z" fill="#5a68b0"/>
<path d="M150.8 54.3 L156.4 54.3 L153.6 51.3 Z" fill="#5a68b0"/>
<text x="139.6" y="56.6" font-size="12" fill="#000" text-anchor="end" textLength="23.3" lengthAdjust="spacingAndGlyphs" >1.00</text>
<text x="23.6" y="97" font-size="12" fill="#fff" textLength="20" lengthAdjust="spacingAndGlyphs" font-weight="bold" >103</text>
<text x="47.6" y="97" font-size="34" fill="#fff" textLength="34.5" lengthAdjust="spacingAndGlyphs" >74</text>
<text x="86.9" y="81" font-size="12" fill="#fff" textLength="7.3" lengthAdjust="spacingAndGlyphs" font-weight="bold" >6</text>
<text x="133.7" y="97" font-size="12" fill="#fff" textLength="20" lengthAdjust="spacingAndGlyphs" font-weight="bold" >103</text>
<text x="158.5" y="97" font-size="34" fill="#fff" textLength="35" lengthAdjust="spacingAndGlyphs" >86</text>
<text x="198.3" y="81" font-size="12" fill="#fff" textLength="6.8" lengthAdjust="spacingAndGlyphs" font-weight="bold" >2</text>
</svg>
</body></html>
